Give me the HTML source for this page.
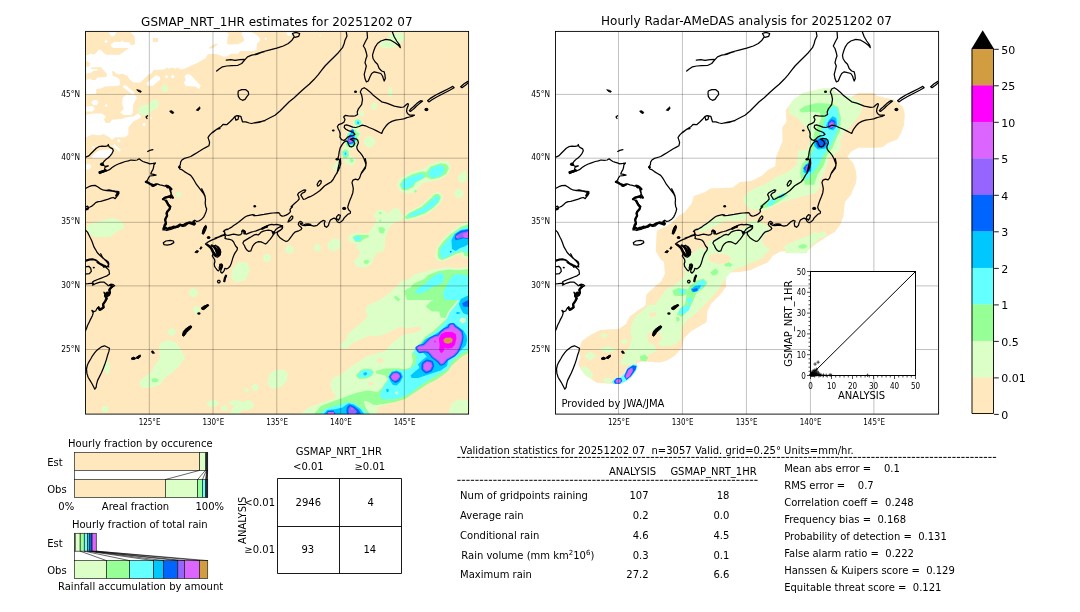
<!DOCTYPE html>
<html><head><meta charset="utf-8"><title>GSMAP_NRT_1HR validation 20251202 07</title>
<style>html,body{margin:0;padding:0;background:#fff}svg{display:block}text{font-family:"DejaVu Sans","Liberation Sans",sans-serif;fill:#000;white-space:pre}</style></head><body>
<svg width="1080" height="612" viewBox="0 0 1080 612">
<rect width="1080" height="612" fill="#fff"/>
<defs>
<clipPath id="cl"><rect x="85.55" y="31.4" width="383.05" height="382.70000000000005"/></clipPath>
<clipPath id="cr"><rect x="555.55" y="31.4" width="383.05000000000007" height="382.70000000000005"/></clipPath>
</defs>
<g clip-path="url(#cl)">
<rect x="85.55" y="31.4" width="383.05" height="382.70000000000005" fill="#ffe8bd"/>
<path d="M130.5 32.3L220.0 32.3L220.0 53.4L207.7 54.3L205.8 58.1L198.2 62.5L184.4 68.7L180.6 69.4L177.5 67.5L175.0 68.7L171.8 67.5L168.7 68.7L166.8 67.5L164.3 69.4L153.6 70.0L151.1 73.8L147.9 75.0L140.4 82.6L133.4 82.6L129.0 78.8L127.8 76.3L122.7 73.8L117.7 74.4L113.3 71.0L112.1 71.3L112.7 75.7L116.5 76.9L119.6 79.4L120.2 84.5L118.3 85.7L104.5 86.4L102.0 88.2L96.3 88.9L96.1 93.9L86.3 94.5L86.3 55.5L91.3 53.4L93.2 54.7L95.7 53.6L98.8 49.6L100.7 49.9L105.8 54.7L119.6 54.7L129.0 48.0L113.3 48.0L111.2 46.3L110.8 44.2L114.6 41.7L120.2 42.1L122.4 40.4L124.4 42.1L129.7 42.3L130.9 45.5L135.1 44.2L134.7 36.7ZM109.5 32.3L116.5 32.3L114.2 36.0L111.2 36.3L109.5 34.1ZM106.1 39.6L108.0 41.4L106.1 43.3L104.3 41.4ZM123.4 85.4L125.5 84.9L134.7 92.7L132.8 94.5L122.7 87.0ZM146.3 83.2L156.1 75.0L159.9 76.9L160.2 79.4L152.9 86.0L147.9 85.7ZM166.5 74.9L168.3 76.7L166.5 78.4L164.8 76.7ZM172.8 74.7L174.8 76.7L172.8 78.7L170.8 76.7ZM184.4 76.3L187.5 73.8L190.7 75.0L200.8 85.7L198.9 88.9L195.7 86.4L185.7 86.1L183.8 82.6L185.7 80.1ZM122.7 97.7L126.5 94.5L135.3 95.2L136.8 97.7L133.4 104.0L132.8 111.5L124.6 111.5L122.1 104.0ZM91.3 102.5L93.6 99.9L96.6 99.9L98.6 102.5L96.6 105.2L93.6 105.2ZM215.0 32.3L227.0 32.3L228.8 34.8L227.6 37.3L227.0 43.6L228.8 44.6L237.6 44.2L242.1 42.3L244.2 40.4L243.3 37.3L241.4 34.8L242.1 32.3L251.5 32.3L256.5 34.8L259.7 37.9L260.3 40.4L257.1 43.6L256.5 49.9L252.7 51.1L240.2 51.1L237.6 54.3L231.4 53.6L227.6 56.2L223.8 56.8L215.0 53.6ZM265.7 37.3L267.2 38.8L265.7 40.3L264.2 38.8ZM286.1 32.5L291.7 32.5L291.1 35.4L288.0 36.0ZM320.1 34.4L321.1 35.4L320.1 36.4L319.1 35.4ZM86.3 106.5L92.5 105.9L95.1 108.8L92.5 111.5L86.3 111.5ZM106.1 104.0L107.6 105.5L106.1 107.0L104.6 105.5ZM120.2 112.2L123.4 109.3L130.9 109.3L133.4 112.2L130.9 115.1L123.4 115.1ZM86.3 114.7L92.5 113.4L102.0 113.4L105.8 116.6L103.9 119.7L105.8 122.9L109.5 122.9L112.1 119.7L121.5 119.1L126.5 117.2L133.4 116.6L137.8 113.4L141.0 116.0L140.4 117.8L133.4 121.6L128.4 127.3L128.4 134.2L125.3 137.3L115.2 137.3L112.1 139.9L109.5 137.3L103.9 134.2L98.8 135.5L92.5 134.2L86.3 137.3ZM144.1 122.6L146.0 124.5L144.1 126.4L142.2 124.5ZM118.7 138.9L120.6 140.7L118.7 142.6L116.8 140.7ZM93.2 145.6L94.7 147.2L93.2 148.7L91.7 147.2ZM112.1 145.5L114.6 144.3L120.9 149.9L119.0 151.8L116.5 149.3ZM91.9 156.2L95.7 152.4L100.1 149.9L110.8 149.3L112.9 151.6L107.6 158.1L92.5 158.1ZM86.3 164.4L89.4 164.1L91.5 166.3L89.4 169.2L86.3 169.4ZM151.1 116.8L152.3 118.1L151.1 119.3L149.8 118.1Z" fill="#fff"/><path d="M152.9 37.9L158.0 37.9L158.0 42.1L152.9 42.1ZM208.9 47.4L215.9 43.6L218.1 44.2L212.1 48.6L209.6 48.6ZM85.0 74.0L91.0 72.8L93.1 71.0L98.0 70.5L97.0 69.0L91.0 69.0L91.5 67.5L100.7 67.0L107.0 74.0L106.4 77.0L97.5 77.6L95.4 79.9L92.3 79.9L89.7 78.6L85.0 80.6ZM85.0 59.7L90.2 63.3L89.2 66.5L85.0 67.0Z" fill="#ffe8bd"/><path d="M162.0 86.4L164.3 84.5L166.8 85.7L168.3 88.9L166.8 91.6L163.6 92.0L161.5 89.5ZM138.1 109.4L141.4 105.3L148.7 104.5L152.0 100.4L156.9 99.6L159.3 103.7L156.9 108.6L152.0 111.1L149.5 114.3L142.2 115.2L138.6 112.7ZM388.5 34.8L391.6 32.9L403.6 32.9L403.9 39.8L400.4 43.6L397.9 45.5L394.1 47.4L387.8 48.0L382.8 48.0L379.7 45.5L380.3 42.3L385.3 39.8L389.1 38.5ZM388.5 88.2L390.4 86.4L392.2 88.2L392.2 95.8L390.4 97.7L388.5 95.8ZM371.5 104.0L374.0 102.1L376.5 104.0L377.1 109.6L371.5 109.6ZM371.7 104.0L374.0 102.3L376.9 103.4L377.8 106.3L375.8 108.0L372.9 107.8L371.2 105.9ZM359.2 112.0L362.0 110.3L364.3 112.0L364.1 115.4L361.5 117.2L359.2 115.4ZM353.4 120.6L356.3 118.9L360.9 119.4L362.9 122.3L362.0 125.7L359.2 127.5L358.6 130.9L360.7 133.2L360.0 136.6L357.5 138.3L358.0 144.0L355.7 147.5L351.7 148.6L349.4 150.3L348.9 154.9L354.6 157.2L355.4 160.6L352.3 163.5L348.9 162.9L347.2 159.5L343.7 158.9L341.4 154.9L342.0 150.3L344.9 145.8L345.4 141.2L347.2 136.6L346.0 134.3L349.4 130.9L352.9 127.5L353.4 124.0ZM375.2 141.7L374.0 145.1L371.2 147.2L367.7 147.2L364.9 145.1L363.7 141.7L364.9 138.4L367.7 136.3L371.2 136.3L374.0 138.4ZM334.6 164.1L339.2 159.5L341.4 161.8L340.3 167.5L336.9 170.0L332.3 170.0ZM396.7 184.0L400.4 178.3L410.5 172.6L423.1 168.9L430.6 163.8L441.9 160.7L448.2 161.3L450.8 166.4L448.2 173.9L440.7 178.9L430.6 181.5L423.1 182.7L418.0 187.7L413.0 192.8L405.5 193.4L399.2 190.3ZM402.9 216.7L408.0 211.7L420.6 205.4L430.6 196.6L434.4 192.8L439.4 192.1L443.2 195.9L441.9 201.6L435.7 207.9L426.8 214.2L415.5 218.6L406.7 220.5L403.6 219.2ZM457.7 177.1L460.8 173.3L465.9 170.1L467.1 178.9L463.3 183.3L458.9 182.1ZM464.0 193.4L462.5 196.9L458.9 198.4L455.4 196.9L453.9 193.4L455.4 189.9L458.9 188.4L462.5 189.9ZM343.2 160.1L347.6 158.2L353.9 158.8L355.1 162.6L352.6 165.7L347.6 165.1ZM376.5 217.5L387.8 216.9L397.9 215.0L402.9 215.0L401.7 220.0L394.1 222.5L389.1 227.6L386.6 233.9L384.7 240.2L385.3 246.5L382.8 251.5L376.5 252.7L374.0 257.8L371.5 264.1L365.2 267.8L356.4 266.6L353.9 261.6L358.9 256.5L360.2 251.5L356.4 247.7L357.6 243.9L350.1 242.1L347.6 237.6L351.4 233.9L357.6 232.6L367.7 233.9L371.5 228.8L375.3 222.5ZM372.7 217.5L375.3 212.5L379.0 209.3L384.1 210.6L387.8 213.7L394.1 208.1L397.9 207.5L400.4 212.5L402.9 216.3ZM334.4 240.2L338.1 238.9L339.4 243.9L337.5 249.0L334.4 249.6ZM435.0 256.5L436.3 249.0L441.9 240.2L449.5 232.6L460.8 224.4L469.0 221.3L469.0 257.8L463.3 257.8L460.8 254.0L453.3 256.5L448.2 259.0L441.9 261.6L436.9 260.3ZM469.0 280.0L469.0 351.6L462.1 355.4L455.8 360.4L450.8 365.4L448.2 370.5L443.2 374.2L435.7 379.3L428.1 383.0L420.6 388.1L413.0 393.1L405.5 398.1L395.4 401.9L385.3 404.4L377.8 407.0L376.5 414.5L299.8 414.5L309.8 407.0L322.4 402.5L332.5 399.4L337.5 395.6L333.7 394.4L330.0 384.3L333.7 376.8L340.0 375.5L347.6 369.2L356.4 362.9L366.5 356.6L379.0 352.8L385.3 351.1L390.4 344.8L397.9 337.9L405.5 334.1L415.5 332.6L422.1 329.1L420.6 326.3L405.5 328.4L400.4 326.8L394.1 329.7L385.3 334.1L376.5 336.6L370.2 335.4L362.7 338.5L352.6 342.9L347.6 348.6L340.7 347.9L341.3 344.2L346.3 339.1L347.6 334.1L353.9 329.1L361.4 322.8L367.7 316.5L365.2 310.2L367.7 305.2L376.5 301.4L385.3 296.4L394.1 288.8L402.9 280.0ZM405.0 300.0L405.7 282.0L413.9 274.7L424.1 271.7L435.9 268.8L446.2 267.3L456.4 268.0L470.0 266.7L470.0 300.0ZM448.9 409.5L452.0 403.2L458.3 399.4L465.9 399.4L469.0 401.9L469.0 414.5L449.5 414.5ZM267.3 381.8L270.4 373.0L276.7 369.8L284.3 369.8L288.0 374.2L286.8 380.5L281.7 386.8L274.2 389.1L269.2 386.8ZM258.9 387.4L257.8 390.0L255.3 391.0L252.8 390.0L251.8 387.4L252.8 384.9L255.3 383.9L257.8 384.9ZM249.0 390.2L248.4 391.8L246.8 392.5L245.1 391.8L244.5 390.2L245.1 388.6L246.8 387.9L248.4 388.6ZM206.3 403.2L210.0 400.4L216.3 400.0L219.1 403.2L216.3 406.3L210.0 407.6ZM227.6 407.9L226.8 410.2L224.5 411.1L222.2 410.2L221.4 407.9L222.2 405.7L224.5 404.8L226.8 405.7ZM228.3 402.5L232.7 400.0L239.0 400.7L242.7 401.9L247.8 400.0L252.8 401.9L254.1 405.7L250.3 409.5L242.7 410.1L237.7 414.5L230.2 414.5L232.1 408.2L235.2 405.7L230.2 405.1ZM87.5 225.2L97.5 221.5L112.5 217.8L122.5 221.5L124.5 227.8L117.5 231.5L110.0 237.0L95.0 237.0L87.5 232.8ZM181.5 194.5L180.8 196.5L178.8 197.2L176.8 196.5L176.0 194.5L176.8 192.5L178.8 191.8L180.8 192.5ZM232.5 269.0L238.8 262.0L247.5 262.8L250.0 270.2L245.0 280.2L236.2 282.8L231.2 277.8ZM271.2 258.0L270.0 261.0L267.0 262.2L264.0 261.0L262.8 258.0L264.0 255.0L267.0 253.8L270.0 255.0ZM293.8 249.5L292.5 252.5L289.5 253.8L286.5 252.5L285.2 249.5L286.5 246.5L289.5 245.2L292.5 246.5ZM321.2 247.8L320.2 250.5L317.5 251.5L314.8 250.5L313.8 247.8L314.8 245.0L317.5 244.0L320.2 245.0ZM327.0 244.0L332.5 238.5L340.0 239.5L341.2 246.5L335.0 251.0L328.8 249.5ZM197.8 292.8L196.5 296.0L193.2 297.2L190.0 296.0L188.8 292.8L190.0 289.5L193.2 288.2L196.5 289.5ZM200.5 309.8L199.5 312.5L196.8 313.5L194.0 312.5L193.0 309.8L194.0 307.0L196.8 306.0L199.5 307.0ZM175.8 332.0L174.5 334.8L171.8 336.0L169.0 334.8L167.8 332.0L169.0 329.2L171.8 328.0L174.5 329.2ZM160.0 343.8L167.5 340.0L176.2 342.5L181.2 350.0L185.0 357.5L180.0 365.0L172.5 372.5L165.0 377.5L160.0 385.0L150.0 388.0L141.2 387.5L138.8 382.5L143.8 377.5L151.2 372.5L155.0 365.0L160.0 357.5L158.8 350.0ZM104.0 367.5L105.0 362.5L107.0 360.5L109.0 362.5L110.0 367.5L109.0 372.5L107.0 374.5L105.0 372.5ZM108.5 409.2L107.5 411.8L105.0 412.8L102.5 411.8L101.5 409.2L102.5 406.8L105.0 405.8L107.5 406.8Z" fill="#dcffc8"/><path d="M354.6 120.0L358.6 119.2L361.5 121.2L360.9 124.6L358.0 125.7L354.6 124.0ZM347.2 134.3L352.9 129.2L356.3 130.3L356.9 134.3L358.0 138.9L355.7 145.8L351.7 147.5L347.2 146.9L345.4 143.5ZM342.0 151.5L345.4 149.2L348.3 150.9L348.9 156.0L346.6 158.3L343.2 157.8ZM356.3 133.4L358.0 132.3L359.7 133.7L358.6 135.7L356.9 135.7ZM350.0 159.5L351.7 158.3L353.4 160.0L352.6 162.3L350.6 162.3ZM399.8 184.6L402.9 179.6L411.7 174.5L421.8 171.4L426.8 172.0L430.6 166.4L440.7 163.2L447.0 164.5L448.9 168.2L446.3 173.9L439.4 177.7L431.9 179.6L425.6 177.1L421.8 179.6L415.5 182.7L413.6 187.1L406.7 190.3L401.7 189.6ZM415.5 189.8L417.0 191.3L415.5 192.8L414.0 191.3ZM404.8 216.7L409.2 212.9L421.8 206.6L431.9 197.2L435.0 194.0L438.8 194.0L440.7 197.2L438.8 202.2L433.1 207.9L425.0 213.5L414.3 217.3L406.1 219.2ZM350.1 160.1L352.0 158.8L353.9 160.7L352.6 162.6L350.7 162.3ZM380.3 211.6L381.8 213.1L380.3 214.6L378.8 213.1ZM378.4 227.6L382.2 227.0L385.3 229.5L383.4 233.2L379.7 233.2ZM352.6 237.0L356.4 235.1L368.3 235.1L369.0 237.0L363.9 238.9L360.2 242.1L355.1 241.7ZM363.3 260.9L367.1 259.7L369.6 261.6L367.7 263.8L364.6 263.8ZM379.0 220.7L380.3 219.4L381.6 220.7L380.3 221.9ZM437.5 255.3L438.2 248.3L443.8 240.8L450.8 233.9L460.8 227.0L469.0 223.8L469.0 256.5L464.6 255.9L463.3 252.1L455.8 254.0L448.2 257.8L441.9 260.3L438.8 258.4ZM404.2 290.7L410.5 287.5L423.1 286.9L430.6 285.0L435.7 280.0L469.0 280.0L469.0 291.3L460.8 296.4L455.8 302.6L448.2 311.5L445.7 317.7L440.7 317.7L439.4 311.5L431.9 311.5L425.6 306.4L430.6 301.4L438.2 297.6L438.8 291.3L433.1 289.4L423.1 292.6L415.5 292.0L411.7 296.4L406.1 298.2ZM406.5 300.0L408.7 289.4L413.9 283.5L424.1 279.1L428.5 274.7L438.8 271.1L449.1 269.6L459.4 270.3L470.0 268.8L470.0 300.0ZM393.5 297.0L396.0 295.7L400.4 299.5L397.9 301.6ZM469.0 352.8L462.1 356.6L455.8 361.7L451.4 366.1L448.2 371.1L443.2 374.9L435.7 379.9L428.1 383.7L420.6 388.7L413.0 393.7L405.5 398.8L395.4 401.9L385.3 403.8L376.5 405.1L372.7 404.4L369.0 401.9L363.9 400.7L365.2 407.0L370.2 414.5L313.6 414.5L321.2 405.7L331.2 401.9L342.5 398.1L348.8 395.6L357.6 392.5L367.7 390.6L377.8 391.9L382.2 387.4L385.3 383.0L387.8 379.3L385.3 375.5L376.5 373.6L375.3 371.1L385.3 368.6L397.9 368.2L405.5 369.2L410.5 367.3L413.0 361.7L411.7 354.1L414.3 350.5L418.0 345.4L425.6 336.6L434.4 330.3L441.9 322.8L448.2 317.7L469.0 317.7ZM355.8 375.5L360.2 370.5L365.2 368.6L371.5 369.2L374.0 372.4L371.5 376.1L366.5 378.6L358.9 379.0ZM151.2 379.0L155.0 378.0L158.8 379.5L157.5 382.0L152.5 382.0Z" fill="#96ff96"/><path d="M355.7 120.6L358.6 120.0L360.7 121.7L360.0 124.2L357.5 125.2L355.4 123.4ZM348.3 134.3L352.3 130.3L355.2 131.5L355.4 135.5L356.9 139.5L354.6 144.6L351.2 145.8L348.3 145.2L346.6 142.3ZM343.5 152.0L345.8 150.9L347.4 152.6L347.2 156.0L344.9 157.0L343.2 154.9ZM401.7 183.3L405.5 178.9L415.5 175.2L423.1 173.3L424.3 176.4L421.8 178.9L415.5 181.5L411.7 186.5L405.5 189.0L401.7 187.7ZM428.1 173.3L431.3 168.2L439.4 165.1L443.8 166.4L444.5 170.8L441.3 175.2L434.4 177.7L429.4 177.1ZM408.0 216.1L411.7 212.9L423.1 207.9L433.1 199.1L435.7 195.9L438.8 196.6L439.2 199.7L434.4 205.4L425.6 211.7L415.5 215.4L409.2 217.3ZM353.9 237.6L357.0 236.1L360.8 236.6L361.4 239.5L358.3 241.2L354.9 240.2ZM440.1 254.0L440.1 249.0L445.7 242.1L452.0 235.8L460.8 228.8L469.0 226.3L469.0 251.5L464.0 252.7L462.1 250.2L454.5 252.7L447.0 257.1L441.9 259.0ZM414.5 292.3L418.3 287.9L425.6 283.5L430.0 279.1L435.9 274.7L441.8 272.5L444.0 276.2L443.2 282.0L438.8 285.0L432.9 286.4L428.5 289.4L424.1 292.3L418.3 293.8ZM444.7 300.0L443.2 292.3L446.2 286.4L449.1 280.6L452.0 276.2L456.4 274.0L462.3 274.7L470.0 276.2L470.0 300.0ZM469.0 349.1L460.8 354.1L454.5 359.1L450.8 362.9L448.2 368.6L441.9 372.4L434.4 376.8L426.8 381.2L419.3 386.2L411.7 391.9L404.2 396.3L395.4 398.8L385.3 399.4L380.3 398.1L379.7 394.4L382.8 388.1L387.8 380.5L389.1 374.2L394.1 369.8L402.9 370.5L409.2 369.2L415.5 364.2L416.8 355.4L413.0 352.8L416.8 347.9L421.8 342.9L428.1 336.6L435.7 331.6L443.2 324.0L447.0 319.0L449.5 312.7L455.8 305.2L460.8 297.6L469.0 291.3ZM357.6 375.5L361.4 371.1L365.8 369.5L370.9 370.2L372.7 372.7L370.2 375.5L365.8 377.4L359.5 377.8ZM318.3 414.5L326.2 408.8L335.0 405.7L342.5 403.8L346.3 402.5L352.6 402.5L360.2 407.0L365.2 411.4L370.2 414.5Z" fill="#64ffff"/><path d="M357.2 121.5L359.2 122.0L358.8 124.0L357.2 123.8ZM344.6 152.8L346.0 152.4L346.4 154.3L344.9 154.9ZM348.9 135.5L351.7 132.0L354.2 133.2L354.6 136.6L355.7 140.0L353.4 144.0L350.0 144.6L347.2 142.9L347.4 138.9ZM452.0 249.0L451.4 240.2L454.5 233.9L460.8 230.1L469.0 228.6L469.0 243.9L464.6 246.5L459.6 248.3L455.8 250.9ZM458.9 303.9L460.8 298.9L469.0 295.1L469.0 315.2L463.3 313.3L460.8 308.9ZM456.4 312.1L459.6 312.1L459.6 314.0L456.4 314.0ZM416.2 348.6L420.6 344.8L425.6 339.1L433.1 335.4L439.4 331.6L445.7 326.6L448.2 324.0L454.5 323.4L459.6 327.8L463.3 330.3L466.5 335.4L467.1 340.4L465.9 345.3L459.6 351.6L452.0 355.4L448.2 360.4L447.0 366.1L440.7 370.5L433.1 373.0L425.6 375.5L418.0 378.0L411.7 378.0L410.5 375.5L415.5 371.1L419.3 367.9L418.0 364.2L421.8 360.4L426.8 356.6L423.1 352.8L416.8 351.6ZM388.5 376.8L391.6 371.7L396.7 370.5L401.1 372.4L402.9 376.8L400.4 381.8L396.7 385.6L392.9 384.9L390.4 381.2ZM386.0 389.3L388.5 388.7L388.9 391.2L386.8 392.5ZM363.3 373.0L365.8 372.0L367.5 373.6L365.8 375.5L363.7 375.2ZM323.3 414.5L327.1 410.1L335.0 409.2L342.5 407.6L345.7 405.1L348.8 403.2L353.9 404.4L360.2 408.8L364.6 414.5Z" fill="#00c8ff"/><path d="M350.4 130.0L352.9 129.2L354.2 131.1L352.9 133.2L350.6 132.6ZM348.1 138.3L350.0 136.0L353.4 136.4L354.6 140.0L352.9 142.9L349.4 144.0L347.2 142.3ZM450.8 250.7L451.8 251.7L450.8 252.7L449.7 251.7ZM454.5 238.3L455.8 233.9L460.8 230.7L469.0 229.6L469.0 238.9L463.3 238.3L458.9 239.5L455.8 240.2ZM415.4 348.7L415.4 347.8L415.6 347.1L416.2 346.4L418.9 344.7L423.1 343.9L429.7 337.4L434.4 335.1L437.7 334.4L440.3 331.1L444.1 328.1L447.6 326.8L448.9 324.0L449.9 323.3L452.8 322.9L453.9 323.2L454.5 323.8L455.8 325.9L459.3 328.1L462.5 331.1L462.8 331.8L463.7 337.1L462.7 342.7L460.7 348.1L458.3 353.0L454.9 356.4L447.6 360.8L444.7 364.3L444.0 364.8L441.3 365.7L440.4 365.6L439.8 365.3L437.3 362.2L431.5 357.8L429.1 354.6L427.5 353.0L424.1 352.5L419.8 353.2L419.0 353.1L418.2 352.5L415.8 349.3ZM421.9 362.9L422.6 362.3L426.0 359.8L426.8 359.5L427.6 359.6L431.5 360.4L432.5 361.0L433.0 361.8L434.1 364.9L434.3 366.1L432.3 370.5L431.8 371.2L431.0 371.7L427.2 373.2L426.0 373.4L424.7 372.7L422.2 370.6L421.6 369.7L421.3 368.8L421.6 364.0ZM462.1 303.3L469.0 299.5L469.0 307.1L463.3 306.4ZM389.1 376.8L392.2 372.4L396.7 371.5L400.4 373.2L401.7 376.8L399.2 381.2L395.4 383.0L391.6 380.5ZM346.3 410.7L347.0 407.0L349.5 404.4L353.9 406.3L358.9 410.1L361.4 414.5L347.0 414.5ZM325.8 414.5L327.7 411.0L333.4 410.5L335.9 414.5Z" fill="#0064ff"/><path d="M348.9 138.3L350.6 136.6L352.9 137.2L353.8 140.0L352.3 142.5L349.4 142.9L348.1 141.2ZM455.5 237.0L457.7 234.5L462.1 232.6L469.0 231.1L469.0 238.3L462.1 237.4L457.7 238.9ZM416.7 348.1L416.8 347.6L419.3 345.8L423.7 345.0L430.2 338.5L434.8 336.2L438.3 335.5L441.2 332.1L444.8 329.1L448.5 327.8L449.9 324.8L450.2 324.4L452.8 324.2L453.3 324.3L454.9 326.8L458.4 329.1L461.7 332.3L462.5 337.1L461.4 342.4L459.6 347.7L457.2 352.2L454.0 355.4L446.7 359.8L444.0 363.3L443.5 363.7L441.2 364.4L440.6 364.3L438.2 361.3L432.4 356.9L430.1 353.9L428.1 351.8L424.1 351.2L419.5 351.8L419.0 351.6L416.8 348.6ZM423.6 363.5L426.6 361.3L427.2 361.2L431.3 362.2L431.6 362.5L432.6 365.9L430.6 370.1L426.6 371.7L426.1 371.7L422.9 369.0L423.2 364.2ZM390.4 376.8L392.9 373.2L396.7 372.5L399.4 374.2L400.2 376.8L397.9 379.9L394.8 381.2L391.9 379.5ZM348.2 409.5L350.1 406.3L353.9 408.2L357.0 411.4L355.1 414.5L348.8 414.5Z" fill="#9664ff"/><path d="M349.7 138.3L351.2 137.2L352.6 138.3L352.3 141.2L350.6 142.1L349.4 140.6ZM462.7 233.9L469.0 231.7L469.0 238.3L464.0 237.6ZM457.0 235.4L458.3 236.6L457.0 237.9L455.8 236.6ZM417.5 348.1L419.7 346.6L424.1 345.9L427.1 342.9L430.7 339.3L435.2 337.1L438.8 336.4L441.8 332.6L445.5 329.7L449.1 328.6L450.6 325.3L452.8 325.0L454.3 327.6L457.9 329.7L460.9 332.6L461.6 337.1L460.6 342.2L458.7 347.3L456.4 351.7L453.5 354.7L449.9 356.9L446.2 359.1L443.2 362.8L441.1 363.5L438.8 360.6L435.9 358.4L432.9 356.1L430.7 353.2L428.5 351.1L424.1 350.3L419.7 351.1ZM424.1 364.3L427.1 362.0L430.7 362.8L431.8 365.7L430.0 369.5L426.3 370.8L423.8 368.7ZM391.0 376.8L393.3 373.9L396.7 373.2L398.9 374.7L399.4 376.8L397.4 379.3L394.8 380.3L392.4 379.0ZM350.7 408.0L352.6 407.6L353.2 409.5L351.4 410.1ZM327.7 412.0L334.0 412.0L334.0 414.5L327.7 414.5Z" fill="#dc64ff"/><path d="M438.8 338.5L441.1 334.1L445.5 332.0L452.0 332.0L455.8 334.1L456.4 338.5L455.0 344.4L452.0 348.1L447.6 348.8L444.7 348.1L443.2 351.7L441.1 353.2L439.2 350.3L439.6 344.4ZM435.0 340.6L436.0 341.7L435.0 342.7L434.0 341.7Z" fill="#ff00ff"/><path d="M443.2 340.0L445.5 337.8L450.6 337.4L452.8 339.3L452.0 342.2L448.4 343.7L444.7 342.9Z" fill="#d29c40"/><path d="M377.1 359.1L382.2 357.9L384.1 360.4L380.9 362.9L377.1 362.3ZM368.0 382.4L372.7 381.8L374.0 384.3L370.2 385.8L368.0 384.6Z" fill="#ffe8bd"/><path d="M458.9 320.3L462.1 317.5L465.9 318.4L465.6 322.1L462.1 323.4ZM394.8 391.9L397.3 391.2L398.5 393.4L396.0 394.6Z" fill="#dcffc8"/>
<path d="M149.3 31.4V414.1M213.0 31.4V414.1M276.8 31.4V414.1M340.7 31.4V414.1M404.3 31.4V414.1M85.55 94.4H468.59999999999997M85.55 158.2H468.59999999999997M85.55 222.3H468.59999999999997M85.55 285.9H468.59999999999997M85.55 349.5H468.59999999999997" stroke="#000" stroke-opacity="0.42" stroke-width="0.6" fill="none"/>
<path d="M147.5 115.7L146.0 117.0L147.0 118.5M216.7 71.0L219.2 69.0L222.5 66.8L226.7 66.0L231.7 65.7L237.5 65.5L241.7 63.5L245.0 59.7L247.5 56.8L251.7 55.2L256.7 54.3L260.8 52.7L265.0 51.3M226.3 60.2L230.8 59.7L235.0 60.3L240.0 59.7L244.2 59.3M238.3 91.0L241.7 89.7L245.8 89.7L248.3 91.8L248.7 94.3L246.7 96.8L245.0 99.3L242.5 100.3L240.0 99.0L238.3 96.3L238.0 93.5ZM212.5 132.7L216.7 129.3L220.8 126.8L223.0 124.3L226.7 124.7L230.0 121.8L232.5 119.3L235.0 116.3L237.5 115.7L240.8 116.3L241.7 119.3L242.5 121.8L245.8 121.8L249.2 123.0L251.7 123.5L256.7 122.3L261.7 121.3L265.0 120.7M235.0 116.8L236.7 115.7L238.7 116.3L238.0 119.3L235.8 120.2ZM255.0 54.3L261.7 52.0L270.0 49.8L276.7 48.2L283.3 46.0L288.3 43.5L292.0 40.2L294.2 36.8L292.5 33.5L295.8 32.3L299.7 33.5L298.7 36.3L295.0 37.3M346.3 32.3L347.0 36.0L345.0 40.2L344.2 43.5L342.5 47.7L338.3 52.7L333.3 57.7L329.2 61.8L325.0 66.0L321.7 70.2L318.3 74.7L314.2 79.3L309.2 84.3L304.2 88.5L299.2 93.0L294.2 97.7L289.2 101.8L284.2 106.8L280.0 111.0L275.0 115.2L270.0 117.7L264.2 120.7L259.2 122.3L255.0 123.0M367.0 31.0L367.5 37.7L365.3 41.8L363.3 46.0L365.0 48.5L366.3 52.7L367.0 56.0L365.8 59.3L365.0 62.7L366.3 66.0L365.3 70.2L364.2 74.3L365.0 78.5L366.3 81.8L368.3 81.0L370.0 76.8L371.7 73.5L374.2 71.8L377.5 72.7L380.8 73.5L382.5 76.0L383.3 78.5L384.2 81.0L385.3 78.5L385.0 75.2L384.2 71.8L381.7 71.0L379.2 68.5L377.5 64.3L375.0 61.8L373.0 58.5L372.5 55.2L373.7 51.0L375.3 46.8L377.5 43.5L380.8 41.0L385.8 39.3L390.8 40.2L395.0 42.7L398.3 45.2L400.3 47.7L399.7 45.2L396.7 41.0L394.2 36.8L392.0 31.0M364.2 87.7L361.7 89.0L360.3 91.9L361.7 95.3L362.5 99.3L361.7 104.3L360.3 106.3L358.4 108.8L357.2 112.0L357.6 114.5L355.3 115.8L352.1 116.1L348.4 115.8L345.2 115.4L343.7 117.0L345.0 119.5L344.0 122.1L341.5 123.7L338.7 124.6L337.4 126.5L338.3 129.0L339.6 131.5L340.2 134.0L339.9 137.1L341.5 139.7L344.0 140.5L345.9 139.0L347.7 137.1L350.3 135.9L353.4 135.5L355.0 134.3L353.4 132.5L350.9 131.5L348.4 130.6L345.9 129.2L344.2 127.5L344.6 125.4L346.5 124.9L349.6 125.8L352.8 127.1L355.9 127.5L359.1 126.5L362.2 125.2L365.4 125.8L369.1 127.5L372.9 129.0L376.7 130.9L379.8 132.5L381.7 133.4L382.7 130.9L384.2 128.3L386.1 125.8L388.6 123.3L391.8 121.4L395.6 120.2L400.0 119.5L403.7 118.9L406.9 117.6L409.4 117.0L411.9 116.4L414.4 115.1L411.9 115.1L409.4 115.1L407.5 113.6L406.6 111.4L406.9 108.8L407.9 106.3L408.4 104.1L407.5 103.6L405.6 105.3L403.7 107.0L400.6 107.3L394.3 106.1L386.7 103.2L381.7 101.8L377.4 98.5L373.3 95.3L370.0 91.9L366.7 89.3ZM337.1 173.0L338.3 167.3L339.2 163.6L339.6 160.4L337.9 158.5L338.7 155.4L339.2 151.6L340.2 147.8L342.1 144.7L344.0 142.2L345.9 140.9L347.7 141.8L348.4 144.3L349.6 146.3L351.5 146.8L353.4 146.0L354.7 143.4L353.8 141.3L352.1 140.0L350.3 139.3L352.8 138.4L355.9 138.8L357.8 140.3L358.4 142.6L357.6 144.7L356.8 146.8L357.2 149.1L358.4 151.0L360.3 152.9L362.2 155.4L363.9 158.5L365.1 161.7L366.0 164.8L365.4 168.0L363.5 170.5L361.6 173.0M409.4 110.7L410.7 109.1L412.5 107.6L414.4 105.7L416.7 103.6L418.8 101.9L420.7 100.7L422.6 101.0L420.7 102.5L418.5 104.4L416.3 106.3L414.4 108.2L412.2 110.1L410.4 111.4ZM427.6 100.7L430.8 98.1L435.8 95.0L442.1 91.9L448.4 88.7L452.8 86.4L454.1 87.7L449.7 90.2L443.4 93.5L437.1 96.8L432.0 99.8L428.9 101.9ZM460.7 86.7L464.1 83.7L467.9 81.4L468.8 82.4L465.4 85.2L462.0 87.7ZM340.4 158.7L340.7 163.8L339.8 166.9L338.5 170.1L336.7 173.2L334.8 176.4L333.1 179.5L331.0 182.0L327.8 183.9L324.7 185.8L322.2 188.3L319.7 190.8L316.5 193.0L313.4 195.0L310.2 196.7L307.5 197.7L305.2 199.0L303.3 199.3L302.1 197.1L300.8 195.2L302.1 193.3L304.6 192.1L305.8 190.2L304.2 189.9L301.4 191.2L298.9 192.7L297.6 194.6L298.7 196.7L299.2 199.0L297.6 200.9L295.4 202.8L293.2 204.7L291.1 206.6M317.1 184.5L318.4 182.0L320.0 180.4L321.3 181.1L320.9 183.3L319.3 185.2L317.8 186.2ZM365.3 158.7L366.2 163.1L365.6 166.3L363.7 169.4L361.8 172.0L360.6 175.1L359.5 178.2L358.0 179.9L355.5 179.1L353.0 180.1L352.0 182.6L352.8 185.8L353.3 188.9L352.8 192.7L351.5 196.5L349.9 200.3L348.6 204.0L347.7 207.2L348.6 209.7L350.5 211.6L350.2 213.5L348.0 214.1L346.1 216.0L344.2 217.9L342.9 220.1L341.1 221.7L339.2 222.7L337.3 221.7L336.0 219.1L336.7 216.6L338.5 214.7L340.4 215.4L339.8 217.9L338.5 220.1L337.3 219.1L336.0 219.1L334.1 218.1L332.2 218.9L330.4 220.1L329.1 222.9L328.5 225.4L326.6 227.3L324.7 226.1L324.3 223.5L325.1 221.0L323.4 220.4L320.9 221.7L319.0 223.5L317.1 225.4L314.0 226.1L310.9 225.4L308.0 225.2L305.2 225.7L302.9 225.4L300.8 224.4M302.9 225.4L305.2 224.2L308.0 223.9L310.9 224.4L308.0 225.2M201.7 188.7L203.6 192.5L204.9 195.7L205.5 199.4L205.2 203.2L205.7 206.4L206.7 208.9L206.1 211.4L204.9 214.5L203.6 217.1L201.7 219.2L199.2 220.8L196.7 221.5L194.8 220.2L193.5 222.1L194.8 224.0L194.2 225.2L191.7 224.2L189.1 223.3L187.2 224.2L185.4 225.9L182.8 226.5L180.3 225.5L178.4 227.1L175.9 227.7L173.4 228.4L170.9 229.3L168.4 230.0L166.5 230.5L164.6 229.6L163.0 230.0L163.3 227.7L165.2 225.9L166.5 224.0L165.5 221.5L165.0 218.9L166.5 217.1L167.5 214.5L166.7 212.0L168.4 210.1L170.0 208.9L170.9 206.4L169.0 204.8L167.5 202.6L166.5 200.3L164.6 200.1L163.0 199.1L164.6 197.3L167.1 196.9L169.6 196.0L171.5 197.5L173.4 197.8L172.1 195.7L170.9 193.1L170.3 191.3L169.6 188.7M163.3 242.8L165.9 241.0L170.3 240.3L173.4 241.0L173.8 242.6L170.9 244.4L167.1 245.1L164.0 244.7ZM202.3 233.4L203.0 230.3L204.5 227.1L205.7 225.5L206.5 227.1L205.5 230.0L204.2 232.8L203.2 234.0ZM223.4 231.5L225.0 230.0L228.1 229.3M85.0 157.5L88.8 155.9L91.3 153.3L93.8 150.8L96.3 148.3L98.8 146.7L102.0 146.2L105.1 146.4L107.6 145.8L108.3 144.5L108.9 146.4L110.8 147.9L112.7 148.9L113.3 150.8L112.1 153.3L110.2 155.9L108.3 157.7L105.8 159.6L103.9 161.5L102.6 163.4L101.4 164.7L103.2 165.3L105.1 166.3L108.3 165.9L105.1 167.2L104.5 169.3L106.4 170.3L103.9 171.8L101.4 172.6L99.5 173.5L99.1 171.8L101.4 171.0L103.9 170.3L106.4 171.0L109.5 169.7L112.1 167.6L115.2 165.5L118.3 164.0L121.5 162.8L125.3 161.5L128.4 160.9L130.9 160.0L134.1 160.3L137.2 160.0L139.1 158.8L141.0 160.3L142.9 161.5L144.8 162.1L147.3 162.8L149.8 163.8L152.9 163.4L155.5 163.0L153.9 164.7L153.6 167.2L152.9 169.7L151.7 171.6L150.7 173.9L153.6 174.4L156.1 175.1L152.9 175.6L149.8 176.0L148.5 177.9L147.3 180.4L145.4 181.9L147.9 182.3L149.8 183.5L151.7 184.8L153.6 185.7L155.5 184.8L157.3 183.9L159.9 184.8L162.4 185.4L164.9 186.1L167.4 185.4L169.3 186.7L170.6 188.6L171.8 189.2L170.6 190.5L171.2 193.0L170.6 195.5L168.0 196.5L170.6 198.0M147.7 151.5L149.8 150.4L152.9 149.6M220.0 128.6L217.1 129.1L214.6 130.7L212.1 132.6L209.6 135.1L208.0 137.6L208.9 140.1L209.6 142.6L208.9 145.8L206.4 147.1L203.3 148.7L200.1 150.8L197.0 152.7L193.8 154.6L190.7 156.5L187.5 157.5L184.4 158.4L181.9 160.0L180.6 162.1L180.4 164.7L178.7 167.2L180.0 169.1L181.9 169.7L184.4 171.6L187.5 173.5L190.7 175.4L192.6 177.9L194.5 181.0L196.3 184.2L198.2 186.7L200.1 189.2L202.0 191.7L203.9 194.2L205.2 197.0M85.0 188.6L88.8 186.7L91.9 185.7L95.1 185.4L97.6 186.7L100.1 188.6L102.6 189.8L105.8 190.5L108.9 189.8L112.1 190.5L115.2 191.1L118.7 191.5L117.1 193.0L115.8 195.5L116.5 197.0M115.8 195.7L118.0 193.1L119.0 191.9L117.1 192.3L113.9 191.5L110.2 191.0L107.0 190.6L103.9 190.0M119.0 193.1L118.0 195.0L116.5 196.9L115.2 198.6L113.3 197.5L110.8 198.2L108.3 199.1L105.8 199.8L103.2 200.7L100.7 201.3L98.2 201.6L95.7 202.6L93.8 204.5L91.9 206.1L90.0 207.0L88.1 207.4L86.9 208.9L85.0 210.1M85.6 207.0L87.5 206.1L88.8 207.6L87.8 209.5L86.0 209.9ZM85.0 229.6L87.5 232.1L88.8 234.7L90.0 237.2L91.3 239.7L92.3 242.2L93.2 244.7L94.1 247.2L95.7 249.8L97.0 252.3L98.8 254.2L100.7 256.1L102.6 257.9L104.5 259.2L106.4 260.5L108.3 262.0L108.9 264.2L107.6 266.1L106.4 267.4M85.0 260.5L89.4 259.2L92.5 258.9L95.7 259.8L98.2 261.7L100.1 263.6L102.0 265.2L103.9 267.4M100.7 253.7L102.6 257.5L105.8 260.7L108.3 263.8L108.7 267.0L106.4 266.3L103.2 264.8L100.1 263.2L97.0 261.3L93.8 259.8L90.0 260.0L85.0 261.3M97.0 262.5L101.4 265.1L105.8 267.3L108.9 270.1L109.5 273.9L107.0 275.8L103.9 277.0L100.7 278.3L97.6 279.5L94.4 280.8L92.5 282.1L93.8 284.6L91.3 283.3L88.1 283.7L85.0 283.9M92.5 285.2L96.3 283.3L100.1 282.1L103.9 282.1L106.4 283.9L108.3 285.8L110.8 284.2L113.3 284.6L114.6 285.8L112.1 287.1L110.2 288.0L108.9 290.2L110.2 292.7L109.5 295.3L107.6 296.5L105.8 294.0L103.9 292.1L105.1 295.3L107.0 298.4L105.8 300.9L103.9 302.8L102.6 305.3L103.9 307.8L102.0 309.1L99.5 310.4L98.2 308.5L98.8 306.6L97.0 308.5L95.7 311.0L93.8 311.6L91.9 310.4L93.2 312.9L92.5 315.4L91.3 317.9L90.0 320.4L88.8 322.9L87.5 325.5L86.5 328.6L85.0 331.7M85.0 267.0L88.8 266.3L90.7 268.2L91.3 271.4L89.4 273.6L85.0 274.1M104.5 345.8L107.0 347.0L109.5 348.3L108.9 351.4L107.6 355.2L106.4 359.6L104.9 364.0L103.2 368.4L101.4 372.8L99.5 376.6L97.6 380.4L96.6 384.1L96.1 387.3L94.8 389.2L93.6 386.7L91.9 383.5L90.0 380.4L88.1 377.2L86.9 373.4L86.5 369.0L87.3 365.3L88.8 362.1L90.7 359.0L92.5 355.8L94.8 352.7L97.0 350.2L99.5 348.3L102.0 346.6ZM205.4 244.0L207.7 242.3L210.6 240.6L213.4 239.4L216.3 238.3L219.2 236.9L222.0 235.8L224.3 235.1L225.5 236.6L224.9 238.3L226.6 238.9L229.5 239.4L231.7 240.0L233.5 241.7L234.6 244.0L235.8 246.3L237.5 248.0L236.9 250.3L235.2 252.6L234.0 254.9L232.9 257.7L232.1 260.6L231.2 263.5L230.0 266.3L228.3 268.0L226.6 268.9L224.9 268.3L224.3 270.3L223.2 272.0L221.8 273.2L220.7 272.0L220.9 269.7L222.0 267.5L222.6 265.2L221.5 264.0L220.0 265.2L219.2 267.5L219.5 269.7L218.4 270.9L216.9 269.7L215.7 268.0L214.6 266.3L214.2 264.0L214.9 261.7L214.6 259.5L213.4 257.7L212.3 256.0L212.9 254.1L214.2 255.2L215.7 256.6L217.5 257.2L219.2 256.0L220.3 254.1L220.7 251.8L220.0 249.5L218.6 247.7L216.9 246.3L215.4 245.2L214.0 246.1L214.6 248.0L215.7 250.3L216.5 252.6L215.7 254.9L214.2 253.7L212.9 251.4L211.7 249.2L210.4 247.4L208.9 246.1L207.2 245.2ZM217.5 281.5L218.1 280.3L219.5 280.3L220.2 281.5L219.5 282.8L218.1 282.8ZM215.0 238.1L217.9 237.2L220.9 235.7L224.3 234.7L224.8 232.7L224.3 230.8L226.3 229.3L228.7 228.8L231.2 227.4L233.6 225.6L236.1 223.9L238.5 222.3L241.0 220.3L243.4 218.3L245.4 216.8L247.4 215.8L250.3 215.1L252.7 214.6L255.2 215.6L258.1 215.4L261.1 214.9L264.0 214.4L267.0 213.8L269.9 213.4L272.8 213.0L275.8 212.8L278.2 212.6L279.7 213.6L280.2 215.1L282.2 216.1L284.1 215.8L286.1 215.1L288.0 214.1L289.7 212.8L290.5 211.2L290.0 209.7L291.0 208.2L292.5 206.8M288.0 222.0L289.0 219.5L290.5 217.1L292.0 215.8L292.9 216.8L292.5 218.5L291.0 220.0L289.5 221.3ZM224.8 232.7L224.8 233.7L226.3 235.2L228.7 235.4L231.2 234.7L233.6 234.2L236.1 234.7L238.5 235.2L240.7 234.7L242.0 233.2L241.7 231.3L242.9 230.1L244.4 230.5L245.4 232.1L244.9 233.7L246.4 234.2L248.8 233.2L251.3 232.1L253.7 231.5L256.2 230.8L258.6 229.8L261.1 228.8L263.2 227.8L265.0 226.9L267.0 225.9L269.4 224.9L271.9 224.4L273.8 224.9L276.3 224.4L278.7 224.9L280.9 225.4L282.5 225.6L282.6 227.4L281.7 229.3L279.7 230.8L277.7 232.1L277.3 233.7L278.2 235.7L279.7 237.4L281.7 238.9L283.6 240.3L285.6 241.3L287.5 241.1L289.0 239.6L290.5 237.6L292.0 235.7L293.4 233.7L294.9 232.1L296.9 231.3L298.8 230.8L300.8 229.8L301.8 228.3L300.8 226.9L299.3 225.9L298.3 224.4L298.8 222.5L300.3 221.3L301.8 222.0L302.7 223.4M274.3 231.8L275.8 229.5L278.2 227.8L280.5 226.6L282.2 226.9L282.5 228.3L280.7 229.8L278.7 231.1L276.6 232.5L274.8 233.0ZM242.9 243.0L243.9 241.1L246.4 239.6L248.8 238.1L251.3 236.7L253.7 235.2L256.2 234.4L258.1 235.0L259.6 233.7L261.1 232.1L263.5 231.1L266.0 230.5L268.4 230.1L270.9 230.5L272.8 231.8L273.6 233.7L272.8 235.7L271.4 237.6L269.9 239.6L268.4 241.1L267.0 243.0L265.5 244.0L263.5 243.0L261.1 241.9L258.6 241.6L256.2 242.5L254.2 244.0L252.7 246.0L251.8 248.4L250.8 250.9L248.8 251.4L246.9 250.1L245.4 247.9L244.4 245.5L243.4 244.0Z" stroke="#000" stroke-width="1.25" fill="none" stroke-linejoin="round" stroke-linecap="round"/><path d="M163.7 228.8L165.9 227.7L167.5 229.3L169.3 228.0L171.5 227.7L173.4 226.7L175.5 227.1L177.8 225.9L180.1 224.6L182.2 225.5L184.4 224.6L186.6 223.3L189.1 222.5L191.9 223.0L193.9 223.7M164.0 227.7L164.6 225.2L165.9 223.0L165.2 220.2L165.9 217.9L167.1 215.8L166.5 213.3L167.7 211.1L169.3 209.5L170.0 207.0L168.4 205.1L167.1 202.6L165.9 200.7M203.4 232.1L204.2 229.3L205.2 227.1M208.6 246.0L210.5 247.2L211.8 249.1L213.0 251.7L214.3 253.5L215.3 255.4M211.8 245.4L213.7 246.6L215.6 248.5L217.1 250.4L218.1 252.3M202.6 308.5L205.2 306.8L207.7 305.3M186.0 330.5L188.2 328.6L190.4 326.7M132.2 358.7L134.7 358.3M137.2 357.7L139.7 356.2M183.4 335.1L184.4 331.9L186.3 329.8L188.4 328.1L190.7 326.8M112.1 286.5L109.5 289.6L109.9 292.7L107.9 295.0L106.4 293.4L105.1 295.9L106.6 298.4L105.1 301.3L103.2 304.1L103.6 307.2L100.7 309.4L98.6 307.8M146.0 181.9L148.5 182.9L151.1 184.4L153.9 185.4L156.1 184.4M166.2 185.7L169.0 186.9L171.2 188.9M99.8 172.6L102.6 171.6L105.8 170.6M163.0 199.1L165.0 197.8L167.7 196.9L170.5 196.5L172.5 197.5M193.5 221.5L194.8 223.7M207.2 244.6L209.4 246.3L211.2 248.6L212.6 251.4L214.0 254.1L215.7 255.5M214.6 246.9L216.1 249.7L217.2 252.6L218.0 255.5M217.5 246.9L219.2 249.2L220.0 252.0L219.5 254.9M220.3 264.6L221.5 266.3L220.9 268.6M224.3 281.2L224.9 278.3L226.0 275.8M262.1 228.8L264.5 227.5L267.0 226.6M242.9 230.8L244.4 231.5L244.4 233.4M272.8 232.1L273.6 233.7" stroke="#000" stroke-width="2.3" fill="none" stroke-linejoin="round" stroke-linecap="round"/><g fill="#000"><path d="M136.7 89.7L139.2 90.2L141.3 91.3L140.8 92.3L138.3 91.5Z" stroke="#000" stroke-width="0.8"/><path d="M169.7 111.0L171.7 110.7L173.8 112.3L173.0 113.7L170.8 112.7Z" stroke="#000" stroke-width="0.8"/><path d="M199.7 106.8L198.3 108.0L196.3 110.2L198.3 110.7L200.0 108.5Z" stroke="#000" stroke-width="0.8"/><ellipse cx="355.5" cy="91.8" rx="1.5" ry="1.2"/><ellipse cx="333.3" cy="130.5" rx="1.4" ry="1.1"/><ellipse cx="337.1" cy="159.2" rx="1.6" ry="1.3"/><ellipse cx="426.4" cy="109.5" rx="2.0" ry="1.7"/><ellipse cx="344.2" cy="208.4" rx="2.0" ry="1.7"/><ellipse cx="208.6" cy="237.6" rx="1.8" ry="1.5"/><path d="M194.8 252.3L196.7 250.4L198.6 251.0L197.3 252.9Z" stroke="#000" stroke-width="0.8"/><path d="M199.8 248.5L201.1 246.6L202.0 247.6L200.7 249.4Z" stroke="#000" stroke-width="0.8"/><ellipse cx="102.0" cy="164.3" rx="2.0" ry="1.7"/><ellipse cx="152.9" cy="185.4" rx="1.8" ry="1.5"/><ellipse cx="168.0" cy="187.3" rx="1.6" ry="1.3"/><ellipse cx="179.6" cy="167.2" rx="1.4" ry="1.1"/><ellipse cx="93.8" cy="267.6" rx="1.1" ry="0.9"/><ellipse cx="110.8" cy="285.2" rx="1.6" ry="1.3"/><ellipse cx="107.6" cy="292.7" rx="1.6" ry="1.3"/><path d="M201.4 307.8L203.9 306.0L207.7 304.7L208.9 305.3L206.4 307.8L203.9 309.7L202.0 309.4Z" stroke="#000" stroke-width="0.8"/><ellipse cx="198.9" cy="313.5" rx="1.6" ry="1.3"/><path d="M185.0 330.5L187.5 328.0L190.1 326.1L191.3 327.0L188.8 329.5L186.3 331.7Z" stroke="#000" stroke-width="0.8"/><path d="M131.6 358.3L133.4 357.1L135.3 358.0L134.7 359.2L132.6 359.6Z" stroke="#000" stroke-width="0.8"/><path d="M136.6 357.1L138.5 355.8L140.4 354.9L139.7 357.1L138.5 358.7L136.8 358.3Z" stroke="#000" stroke-width="0.8"/><path d="M151.4 351.4L152.9 350.8L154.5 353.3L152.3 353.3Z" stroke="#000" stroke-width="0.8"/><path d="M182.5 335.1L183.1 331.9L185.0 329.4L187.5 327.5L190.1 326.0L191.7 326.5L190.7 328.8L188.4 330.7L186.7 332.5L185.0 335.1L183.4 336.3Z" stroke="#000" stroke-width="0.8"/><ellipse cx="254.7" cy="206.3" rx="1.4" ry="1.2"/><ellipse cx="254.2" cy="215.4" rx="1.1" ry="0.9"/><ellipse cx="300.8" cy="223.6" rx="1.2" ry="1.0"/></g>
</g>
<rect x="85.55" y="31.4" width="383.05" height="382.70000000000005" fill="none" stroke="#000" stroke-width="0.9"/>
<text x="80.0" y="96.5" font-size="8.2" text-anchor="end" textLength="18.7" lengthAdjust="spacingAndGlyphs">45°N</text><text x="80.0" y="160.3" font-size="8.2" text-anchor="end" textLength="18.7" lengthAdjust="spacingAndGlyphs">40°N</text><text x="80.0" y="224.4" font-size="8.2" text-anchor="end" textLength="18.7" lengthAdjust="spacingAndGlyphs">35°N</text><text x="80.0" y="288.0" font-size="8.2" text-anchor="end" textLength="18.7" lengthAdjust="spacingAndGlyphs">30°N</text><text x="80.0" y="351.6" font-size="8.2" text-anchor="end" textLength="18.7" lengthAdjust="spacingAndGlyphs">25°N</text><text x="149.6" y="424.7" font-size="8.2" text-anchor="middle" textLength="21.8" lengthAdjust="spacingAndGlyphs">125°E</text><text x="213.3" y="424.7" font-size="8.2" text-anchor="middle" textLength="21.8" lengthAdjust="spacingAndGlyphs">130°E</text><text x="277.1" y="424.7" font-size="8.2" text-anchor="middle" textLength="21.8" lengthAdjust="spacingAndGlyphs">135°E</text><text x="341.0" y="424.7" font-size="8.2" text-anchor="middle" textLength="21.8" lengthAdjust="spacingAndGlyphs">140°E</text><text x="404.6" y="424.7" font-size="8.2" text-anchor="middle" textLength="21.8" lengthAdjust="spacingAndGlyphs">145°E</text>
<text x="276.8" y="26" font-size="12" text-anchor="middle" textLength="271.5">GSMAP_NRT_1HR estimates for 20251202 07</text>
<g clip-path="url(#cr)">
<rect x="555.55" y="31.4" width="383.05000000000007" height="382.70000000000005" fill="#fff"/>
<path d="M803.0 93.1L814.1 90.4L823.3 88.5L832.6 88.5L836.3 93.1L851.1 96.9L858.5 93.1L873.3 93.1L877.0 95.9L893.7 99.6L903.0 107.0L904.8 114.4L903.9 125.6L901.1 133.0L897.4 139.4L888.1 143.1L882.6 146.9L877.0 147.8L858.5 147.8L851.1 151.5L847.4 157.0L853.0 162.6L855.7 170.0L856.7 177.4L855.8 183.3L850.8 195.0L845.0 201.7L843.3 216.7L840.0 225.0L835.0 231.7L826.7 236.7L816.7 243.3L808.0 250.0L797.4 250.6L780.7 251.5L773.3 255.2L767.8 262.6L758.5 266.3L751.1 270.0L740.0 271.9L729.6 272.5L725.9 277.8L725.9 287.0L720.4 294.4L711.1 303.7L707.4 311.1L706.5 322.2L700.0 325.9L690.7 331.5L684.0 338.5L681.7 348.5L674.3 356.0L667.1 360.6L659.7 362.4L643.0 361.5L637.5 362.4L635.6 371.7L630.1 379.1L619.9 383.7L611.6 383.7L596.7 382.8L591.2 379.1L585.6 375.4L581.0 369.8L578.2 364.3L580.1 356.9L579.1 349.4L581.9 341.1L591.2 334.6L600.4 330.0L611.4 329.3L619.0 329.1L626.2 323.8L630.0 316.3L637.5 310.8L645.4 305.6L646.3 294.4L655.6 286.1L661.1 281.5L664.8 274.1L664.0 262.0L660.4 258.9L655.7 251.5L656.7 231.1L670.6 223.7L678.9 215.4L684.4 212.6L691.9 203.3L693.7 195.9L704.8 192.2L710.4 188.5L732.6 187.6L740.0 182.0L751.1 181.1L762.2 175.6L767.8 170.0L775.2 166.3L776.1 157.0L779.8 147.8L782.6 141.3L782.2 127.4L786.3 121.9L785.9 109.8L793.7 99.6Z" fill="#ffe8bd"/><path d="M793.7 99.6L803.0 93.1L814.1 90.4L823.3 88.5L831.7 88.5L836.3 93.1L851.1 96.9L860.4 101.5L862.2 108.9L858.5 116.3L851.1 125.6L843.7 133.0L840.0 140.4L840.9 147.8L836.3 153.3L828.9 157.0L827.0 166.3L823.3 173.7L817.8 184.8L801.1 184.8L799.3 173.7L802.0 166.3L806.7 157.0L807.6 147.8L810.4 140.4L808.5 133.0L804.8 125.6L797.4 118.1L790.0 113.5L788.5 107.0ZM747.4 192.2L758.5 186.7L769.6 183.0L780.7 179.3L791.9 173.7L799.3 170.0L817.8 170.0L814.1 177.4L806.7 184.8L795.6 190.4L786.3 195.9L777.0 201.5L767.8 207.0L758.5 209.8L751.1 209.8L745.6 205.2L742.8 199.6ZM687.0 263.0L700.0 259.3L718.5 253.7L733.3 250.0L766.7 250.0L763.0 257.4L751.9 263.0L740.7 264.8L729.6 268.5L724.1 275.9L720.4 287.0L711.1 298.1L703.7 305.6L696.3 313.0L687.0 320.4L681.5 327.8L681.5 337.0L677.8 342.6L670.4 346.3L661.1 346.3L655.6 340.7L646.3 342.6L640.7 350.0L637.0 357.4L635.2 364.8L620.4 364.8L624.1 353.7L629.6 346.3L632.4 335.2L637.0 327.8L642.6 318.5L648.1 311.1L655.6 303.7L661.1 296.3L666.7 288.9L674.1 285.2L681.5 279.6L687.0 272.2ZM704.1 305.0L693.0 312.4L685.6 316.1L678.2 316.1L669.0 319.8L659.7 323.5L652.3 329.1L650.4 336.5L654.1 342.0L656.0 351.3L648.6 355.0L643.0 358.7L637.5 360.6L635.6 355.0L637.5 347.6L633.8 340.2L630.1 332.8L631.9 323.5L635.6 316.1L643.0 310.6L648.6 305.0ZM600.4 335.6L604.1 332.8L607.9 335.6L604.1 338.3ZM620.8 341.7L624.5 338.3L628.2 341.7L624.5 344.8ZM598.6 349.4L607.9 345.7L617.1 349.4L607.9 353.1ZM583.8 355.9L590.3 351.3L596.7 355.9L590.3 360.6ZM580.1 368.0L585.6 366.1L593.0 373.5L592.1 379.1L585.6 375.4ZM602.3 380.0L607.9 377.2L613.4 380.6L607.9 383.7ZM798.3 150.0L830.0 150.0L826.7 160.0L823.3 170.0L818.3 178.3L820.0 186.7L815.0 193.3L801.7 196.7L790.0 200.0L780.0 203.3L770.0 208.3L760.0 211.7L760.0 188.3L766.7 183.3L776.7 176.7L788.3 171.7L796.7 165.0ZM785.0 253.3L788.3 245.0L796.7 240.0L806.7 236.7L815.0 231.7L821.7 235.0L816.7 241.7L810.0 246.7L806.7 253.3ZM697.5 230.2L702.6 225.8L708.9 221.4L715.2 218.2L718.9 217.0L727.7 215.7L740.3 214.1L747.2 213.2L747.9 217.0L745.4 219.5L737.8 220.7L731.5 221.1L727.7 220.1L724.0 221.4L718.9 223.9L713.9 226.4L708.9 228.9L703.8 231.4L700.1 232.1ZM708.9 241.5L715.2 238.3L722.7 234.6L731.5 230.8L740.3 229.5L745.4 227.6L747.2 222.0L752.9 220.1L760.5 222.6L766.1 225.1L770.5 229.5L766.7 233.3L763.0 236.5L761.7 241.5L765.5 246.5L770.5 249.7L765.5 253.4L760.5 255.3L755.4 254.7L752.9 259.1L747.9 264.1L742.8 266.7L737.8 267.9L732.8 270.4L727.7 275.5L722.7 283.0L685.0 283.0L685.0 257.8L690.0 255.3L693.8 252.8L697.5 249.0L702.6 247.8L706.4 250.3L708.9 246.5L707.6 242.7ZM783.1 247.1L790.7 242.7L799.5 240.9L808.3 236.5L815.8 233.3L825.9 231.7L825.9 236.5L817.1 238.7L810.8 244.0L803.2 250.9L796.9 252.8L788.1 252.2ZM760.5 205.0L770.5 205.0L768.0 208.8L763.0 210.0L759.8 208.1Z" fill="#dcffc8"/><path d="M799.3 109.8L804.8 106.1L815.9 103.3L823.3 103.3L832.6 104.3L838.1 107.0L840.9 118.1L840.0 131.1L836.3 138.5L832.6 147.8L827.0 155.2L823.3 166.3L817.8 173.7L814.1 184.8L804.8 184.8L803.0 173.7L804.8 166.3L809.4 157.0L811.3 147.8L813.1 140.4L814.1 133.0L817.8 125.6L821.5 118.1L819.6 112.6L810.4 111.7L801.1 112.6ZM727.0 264.8L729.8 262.6L732.6 264.8L729.8 267.2ZM711.3 272.8L715.0 270.0L718.7 272.8L715.0 275.6ZM798.3 245.9L803.0 244.1L807.6 245.9L803.0 247.8ZM765.9 204.3L773.3 197.8L784.4 193.1L788.1 195.0L780.7 200.6L771.5 206.1ZM801.1 170.0L814.1 170.0L812.2 177.4L805.7 182.0L801.1 179.3ZM672.2 290.7L677.8 288.0L687.0 288.9L688.9 293.5L681.5 296.3L674.1 295.4ZM710.2 272.2L715.7 268.5L718.5 271.3L713.0 275.9ZM724.1 263.9L728.7 262.0L730.6 264.8L725.9 267.0ZM688.9 287.0L696.3 280.6L703.7 278.7L707.4 282.4L703.7 288.0L696.3 293.5L692.6 301.9L688.9 309.3L681.5 316.7L676.9 314.8L679.6 309.3L685.2 303.7L686.1 297.2ZM675.9 317.6L678.7 316.7L679.6 320.4L676.9 321.9ZM639.8 356.5L644.4 354.6L648.1 357.4L645.4 361.1L640.7 360.7ZM640.3 355.9L644.9 354.6L648.2 357.8L645.8 361.5L641.2 360.6ZM676.4 318.0L679.1 317.0L679.7 319.8L677.3 320.7ZM800.0 173.3L801.7 165.0L808.3 156.7L810.0 150.0L825.0 150.0L821.7 160.0L816.7 168.3L811.7 176.7L806.7 181.7L801.7 180.8ZM798.3 245.8L805.0 244.2L807.5 246.7L803.3 248.7L799.2 248.3ZM760.0 205.0L770.0 200.0L781.7 195.0L785.0 196.7L776.7 201.7L768.3 206.7L760.0 209.2Z" fill="#96ff96"/><path d="M827.0 111.7L832.6 106.1L837.2 108.0L839.1 118.1L838.1 129.3L834.4 137.6L830.7 145.9L826.1 151.5L821.5 158.9L817.8 166.3L812.2 173.7L805.7 175.6L803.0 170.9L805.7 164.4L811.3 157.0L814.1 149.6L815.0 142.2L819.6 134.8L823.3 125.6L825.2 118.1ZM766.9 203.3L773.3 198.7L776.1 200.6L770.6 206.1L767.4 206.1ZM777.0 196.9L783.5 193.1L786.3 195.0L780.7 198.7ZM803.0 170.0L811.3 170.0L809.4 177.4L805.7 179.3L803.3 175.6ZM691.7 288.0L697.2 282.4L702.8 279.6L706.5 282.4L702.8 287.0L697.2 291.7L692.6 292.6ZM677.8 289.8L684.3 288.9L686.1 292.6L681.5 294.4ZM686.1 299.1L690.7 297.2L692.6 300.9L688.9 303.7ZM679.6 309.3L685.2 305.6L690.7 305.6L688.9 310.2L683.3 314.8L678.7 313.9ZM680.1 310.6L685.6 305.9L690.3 305.0L689.3 308.7L683.8 314.3L680.4 314.3ZM611.6 381.9L615.3 378.1L620.8 377.2L624.5 373.5L628.2 367.0L633.8 364.3L637.5 365.2L636.6 369.8L631.9 376.3L626.4 380.9L620.8 383.7L613.4 383.7ZM804.2 176.7L805.0 170.0L810.0 163.3L810.8 155.0L813.3 150.0L820.0 150.0L818.3 158.3L814.2 166.7L810.0 175.0L807.5 180.0ZM766.7 203.3L771.7 199.2L776.7 197.5L774.2 201.7L768.3 205.0ZM778.3 196.7L783.3 194.2L784.2 196.3L780.0 198.3Z" fill="#64ffff"/><path d="M828.9 120.0L832.6 116.3L836.3 118.1L837.2 125.6L833.5 130.2L828.9 129.3L826.1 125.6ZM814.1 140.4L819.6 137.6L827.0 138.5L828.9 144.1L825.2 148.7L817.8 149.6L814.1 145.9ZM803.9 168.1L807.6 163.5L811.3 165.4L811.3 170.9L806.7 173.7L803.3 171.9ZM778.9 195.9L783.5 193.7L784.4 195.6L780.4 197.8ZM690.7 288.9L695.4 286.1L700.9 285.2L700.0 288.0L696.3 291.7L692.2 292.2ZM803.0 168.3L805.8 164.2L810.0 162.5L810.8 166.7L808.3 170.8L804.2 171.3Z" fill="#00c8ff"/><path d="M828.0 122.8L831.7 119.1L835.4 120.9L835.4 125.6L831.7 128.9L828.0 127.4ZM815.0 141.3L819.6 138.9L826.1 140.0L827.0 144.1L823.3 147.4L817.8 147.8ZM804.4 168.1L807.6 164.8L810.4 166.3L810.0 170.4L806.3 172.2ZM692.0 289.3L697.2 288.0L697.8 290.4L693.5 291.7ZM613.8 381.3L616.7 378.1L621.2 378.1L622.3 380.9L619.9 383.7L614.9 383.7ZM624.1 376.3L627.3 368.9L632.9 365.2L636.6 366.1L635.6 369.8L631.0 376.3L626.4 380.0ZM803.7 168.0L806.3 165.0L809.7 163.7L810.0 166.7L807.5 170.0L804.7 170.3Z" fill="#0064ff"/><path d="M828.5 124.1L831.7 120.9L834.4 122.8L834.1 126.5L830.7 128.3ZM805.2 168.1L807.6 165.9L809.4 167.2L808.9 170.0L806.3 171.1ZM805.8 166.7L808.3 164.7L809.3 166.7L807.5 169.2Z" fill="#9664ff"/><path d="M829.3 124.6L831.7 122.4L833.5 124.1L832.6 126.7L830.4 127.4ZM615.3 380.9L617.5 379.1L620.8 379.4L620.8 382.4L616.7 383.1ZM625.4 376.3L628.6 369.8L632.3 367.6L632.9 370.7L629.7 376.3L626.4 378.7Z" fill="#dc64ff"/><path d="M648.5 313.0L655.6 312.0L656.5 316.3L650.0 317.0ZM647.2 333.3L659.3 331.5L662.0 338.9L655.6 345.4L648.1 342.6ZM707.6 255.3L715.2 253.4L725.2 254.1L731.5 257.8L727.7 262.9L718.9 264.1L710.1 261.6Z" fill="#ffe8bd"/>
<path d="M618.5 31.4V414.1M682.4 31.4V414.1M746.4 31.4V414.1M810.4 31.4V414.1M873.9 31.4V414.1M555.55 94.4H938.6000000000001M555.55 158.2H938.6000000000001M555.55 222.3H938.6000000000001M555.55 285.9H938.6000000000001M555.55 349.5H938.6000000000001" stroke="#000" stroke-opacity="0.42" stroke-width="0.6" fill="none"/>
<path d="M617.5 115.7L616.0 117.0L617.0 118.5M686.7 71.0L689.2 69.0L692.5 66.8L696.7 66.0L701.7 65.7L707.5 65.5L711.7 63.5L715.0 59.7L717.5 56.8L721.7 55.2L726.7 54.3L730.8 52.7L735.0 51.3M696.3 60.2L700.8 59.7L705.0 60.3L710.0 59.7L714.2 59.3M708.3 91.0L711.7 89.7L715.8 89.7L718.3 91.8L718.7 94.3L716.7 96.8L715.0 99.3L712.5 100.3L710.0 99.0L708.3 96.3L708.0 93.5ZM682.5 132.7L686.7 129.3L690.8 126.8L693.0 124.3L696.7 124.7L700.0 121.8L702.5 119.3L705.0 116.3L707.5 115.7L710.8 116.3L711.7 119.3L712.5 121.8L715.8 121.8L719.2 123.0L721.7 123.5L726.7 122.3L731.7 121.3L735.0 120.7M705.0 116.8L706.7 115.7L708.7 116.3L708.0 119.3L705.8 120.2ZM725.0 54.3L731.7 52.0L740.0 49.8L746.7 48.2L753.3 46.0L758.3 43.5L762.0 40.2L764.2 36.8L762.5 33.5L765.8 32.3L769.7 33.5L768.7 36.3L765.0 37.3M816.3 32.3L817.0 36.0L815.0 40.2L814.2 43.5L812.5 47.7L808.3 52.7L803.3 57.7L799.2 61.8L795.0 66.0L791.7 70.2L788.3 74.7L784.2 79.3L779.2 84.3L774.2 88.5L769.2 93.0L764.2 97.7L759.2 101.8L754.2 106.8L750.0 111.0L745.0 115.2L740.0 117.7L734.2 120.7L729.2 122.3L725.0 123.0M837.0 31.0L837.5 37.7L835.3 41.8L833.3 46.0L835.0 48.5L836.3 52.7L837.0 56.0L835.8 59.3L835.0 62.7L836.3 66.0L835.3 70.2L834.2 74.3L835.0 78.5L836.3 81.8L838.3 81.0L840.0 76.8L841.7 73.5L844.2 71.8L847.5 72.7L850.8 73.5L852.5 76.0L853.3 78.5L854.2 81.0L855.3 78.5L855.0 75.2L854.2 71.8L851.7 71.0L849.2 68.5L847.5 64.3L845.0 61.8L843.0 58.5L842.5 55.2L843.7 51.0L845.3 46.8L847.5 43.5L850.8 41.0L855.8 39.3L860.8 40.2L865.0 42.7L868.3 45.2L870.3 47.7L869.7 45.2L866.7 41.0L864.2 36.8L862.0 31.0M834.2 87.7L831.7 89.0L830.3 91.9L831.7 95.3L832.5 99.3L831.7 104.3L830.3 106.3L828.4 108.8L827.2 112.0L827.6 114.5L825.3 115.8L822.1 116.1L818.4 115.8L815.2 115.4L813.7 117.0L815.0 119.5L814.0 122.1L811.5 123.7L808.7 124.6L807.4 126.5L808.3 129.0L809.6 131.5L810.2 134.0L809.9 137.1L811.5 139.7L814.0 140.5L815.9 139.0L817.7 137.1L820.3 135.9L823.4 135.5L825.0 134.3L823.4 132.5L820.9 131.5L818.4 130.6L815.9 129.2L814.2 127.5L814.6 125.4L816.5 124.9L819.6 125.8L822.8 127.1L825.9 127.5L829.1 126.5L832.2 125.2L835.4 125.8L839.1 127.5L842.9 129.0L846.7 130.9L849.8 132.5L851.7 133.4L852.7 130.9L854.2 128.3L856.1 125.8L858.6 123.3L861.8 121.4L865.6 120.2L870.0 119.5L873.7 118.9L876.9 117.6L879.4 117.0L881.9 116.4L884.4 115.1L881.9 115.1L879.4 115.1L877.5 113.6L876.6 111.4L876.9 108.8L877.9 106.3L878.4 104.1L877.5 103.6L875.6 105.3L873.7 107.0L870.6 107.3L864.3 106.1L856.7 103.2L851.7 101.8L847.4 98.5L843.3 95.3L840.0 91.9L836.7 89.3ZM807.1 173.0L808.3 167.3L809.2 163.6L809.6 160.4L807.9 158.5L808.7 155.4L809.2 151.6L810.2 147.8L812.1 144.7L814.0 142.2L815.9 140.9L817.7 141.8L818.4 144.3L819.6 146.3L821.5 146.8L823.4 146.0L824.7 143.4L823.8 141.3L822.1 140.0L820.3 139.3L822.8 138.4L825.9 138.8L827.8 140.3L828.4 142.6L827.6 144.7L826.8 146.8L827.2 149.1L828.4 151.0L830.3 152.9L832.2 155.4L833.9 158.5L835.1 161.7L836.0 164.8L835.4 168.0L833.5 170.5L831.6 173.0M879.4 110.7L880.7 109.1L882.5 107.6L884.4 105.7L886.7 103.6L888.8 101.9L890.7 100.7L892.6 101.0L890.7 102.5L888.5 104.4L886.3 106.3L884.4 108.2L882.2 110.1L880.4 111.4ZM897.6 100.7L900.8 98.1L905.8 95.0L912.1 91.9L918.4 88.7L922.8 86.4L924.1 87.7L919.7 90.2L913.4 93.5L907.1 96.8L902.0 99.8L898.9 101.9ZM930.7 86.7L934.1 83.7L937.9 81.4L938.8 82.4L935.4 85.2L932.0 87.7ZM810.4 158.7L810.7 163.8L809.8 166.9L808.5 170.1L806.7 173.2L804.8 176.4L803.1 179.5L801.0 182.0L797.8 183.9L794.7 185.8L792.2 188.3L789.7 190.8L786.5 193.0L783.4 195.0L780.2 196.7L777.5 197.7L775.2 199.0L773.3 199.3L772.1 197.1L770.8 195.2L772.1 193.3L774.6 192.1L775.8 190.2L774.2 189.9L771.4 191.2L768.9 192.7L767.6 194.6L768.7 196.7L769.2 199.0L767.6 200.9L765.4 202.8L763.2 204.7L761.1 206.6M787.1 184.5L788.4 182.0L790.0 180.4L791.3 181.1L790.9 183.3L789.3 185.2L787.8 186.2ZM835.3 158.7L836.2 163.1L835.6 166.3L833.7 169.4L831.8 172.0L830.6 175.1L829.5 178.2L828.0 179.9L825.5 179.1L823.0 180.1L822.0 182.6L822.8 185.8L823.3 188.9L822.8 192.7L821.5 196.5L819.9 200.3L818.6 204.0L817.7 207.2L818.6 209.7L820.5 211.6L820.2 213.5L818.0 214.1L816.1 216.0L814.2 217.9L812.9 220.1L811.1 221.7L809.2 222.7L807.3 221.7L806.0 219.1L806.7 216.6L808.5 214.7L810.4 215.4L809.8 217.9L808.5 220.1L807.3 219.1L806.0 219.1L804.1 218.1L802.2 218.9L800.4 220.1L799.1 222.9L798.5 225.4L796.6 227.3L794.7 226.1L794.3 223.5L795.1 221.0L793.4 220.4L790.9 221.7L789.0 223.5L787.1 225.4L784.0 226.1L780.9 225.4L778.0 225.2L775.2 225.7L772.9 225.4L770.8 224.4M772.9 225.4L775.2 224.2L778.0 223.9L780.9 224.4L778.0 225.2M671.7 188.7L673.6 192.5L674.9 195.7L675.5 199.4L675.2 203.2L675.7 206.4L676.7 208.9L676.1 211.4L674.9 214.5L673.6 217.1L671.7 219.2L669.2 220.8L666.7 221.5L664.8 220.2L663.5 222.1L664.8 224.0L664.2 225.2L661.7 224.2L659.1 223.3L657.2 224.2L655.4 225.9L652.8 226.5L650.3 225.5L648.4 227.1L645.9 227.7L643.4 228.4L640.9 229.3L638.4 230.0L636.5 230.5L634.6 229.6L633.0 230.0L633.3 227.7L635.2 225.9L636.5 224.0L635.5 221.5L635.0 218.9L636.5 217.1L637.5 214.5L636.7 212.0L638.4 210.1L640.0 208.9L640.9 206.4L639.0 204.8L637.5 202.6L636.5 200.3L634.6 200.1L633.0 199.1L634.6 197.3L637.1 196.9L639.6 196.0L641.5 197.5L643.4 197.8L642.1 195.7L640.9 193.1L640.3 191.3L639.6 188.7M633.3 242.8L635.9 241.0L640.3 240.3L643.4 241.0L643.8 242.6L640.9 244.4L637.1 245.1L634.0 244.7ZM672.3 233.4L673.0 230.3L674.5 227.1L675.7 225.5L676.5 227.1L675.5 230.0L674.2 232.8L673.2 234.0ZM693.4 231.5L695.0 230.0L698.1 229.3M555.0 157.5L558.8 155.9L561.3 153.3L563.8 150.8L566.3 148.3L568.8 146.7L572.0 146.2L575.1 146.4L577.6 145.8L578.3 144.5L578.9 146.4L580.8 147.9L582.7 148.9L583.3 150.8L582.1 153.3L580.2 155.9L578.3 157.7L575.8 159.6L573.9 161.5L572.6 163.4L571.4 164.7L573.2 165.3L575.1 166.3L578.3 165.9L575.1 167.2L574.5 169.3L576.4 170.3L573.9 171.8L571.4 172.6L569.5 173.5L569.1 171.8L571.4 171.0L573.9 170.3L576.4 171.0L579.5 169.7L582.1 167.6L585.2 165.5L588.3 164.0L591.5 162.8L595.3 161.5L598.4 160.9L600.9 160.0L604.1 160.3L607.2 160.0L609.1 158.8L611.0 160.3L612.9 161.5L614.8 162.1L617.3 162.8L619.8 163.8L622.9 163.4L625.5 163.0L623.9 164.7L623.6 167.2L622.9 169.7L621.7 171.6L620.7 173.9L623.6 174.4L626.1 175.1L622.9 175.6L619.8 176.0L618.5 177.9L617.3 180.4L615.4 181.9L617.9 182.3L619.8 183.5L621.7 184.8L623.6 185.7L625.5 184.8L627.3 183.9L629.9 184.8L632.4 185.4L634.9 186.1L637.4 185.4L639.3 186.7L640.6 188.6L641.8 189.2L640.6 190.5L641.2 193.0L640.6 195.5L638.0 196.5L640.6 198.0M617.7 151.5L619.8 150.4L622.9 149.6M690.0 128.6L687.1 129.1L684.6 130.7L682.1 132.6L679.6 135.1L678.0 137.6L678.9 140.1L679.6 142.6L678.9 145.8L676.4 147.1L673.3 148.7L670.1 150.8L667.0 152.7L663.8 154.6L660.7 156.5L657.5 157.5L654.4 158.4L651.9 160.0L650.6 162.1L650.4 164.7L648.7 167.2L650.0 169.1L651.9 169.7L654.4 171.6L657.5 173.5L660.7 175.4L662.6 177.9L664.5 181.0L666.3 184.2L668.2 186.7L670.1 189.2L672.0 191.7L673.9 194.2L675.2 197.0M555.0 188.6L558.8 186.7L561.9 185.7L565.1 185.4L567.6 186.7L570.1 188.6L572.6 189.8L575.8 190.5L578.9 189.8L582.1 190.5L585.2 191.1L588.7 191.5L587.1 193.0L585.8 195.5L586.5 197.0M585.8 195.7L588.0 193.1L589.0 191.9L587.1 192.3L583.9 191.5L580.2 191.0L577.0 190.6L573.9 190.0M589.0 193.1L588.0 195.0L586.5 196.9L585.2 198.6L583.3 197.5L580.8 198.2L578.3 199.1L575.8 199.8L573.2 200.7L570.7 201.3L568.2 201.6L565.7 202.6L563.8 204.5L561.9 206.1L560.0 207.0L558.1 207.4L556.9 208.9L555.0 210.1M555.6 207.0L557.5 206.1L558.8 207.6L557.8 209.5L556.0 209.9ZM555.0 229.6L557.5 232.1L558.8 234.7L560.0 237.2L561.3 239.7L562.3 242.2L563.2 244.7L564.1 247.2L565.7 249.8L567.0 252.3L568.8 254.2L570.7 256.1L572.6 257.9L574.5 259.2L576.4 260.5L578.3 262.0L578.9 264.2L577.6 266.1L576.4 267.4M555.0 260.5L559.4 259.2L562.5 258.9L565.7 259.8L568.2 261.7L570.1 263.6L572.0 265.2L573.9 267.4M570.7 253.7L572.6 257.5L575.8 260.7L578.3 263.8L578.7 267.0L576.4 266.3L573.2 264.8L570.1 263.2L567.0 261.3L563.8 259.8L560.0 260.0L555.0 261.3M567.0 262.5L571.4 265.1L575.8 267.3L578.9 270.1L579.5 273.9L577.0 275.8L573.9 277.0L570.7 278.3L567.6 279.5L564.4 280.8L562.5 282.1L563.8 284.6L561.3 283.3L558.1 283.7L555.0 283.9M562.5 285.2L566.3 283.3L570.1 282.1L573.9 282.1L576.4 283.9L578.3 285.8L580.8 284.2L583.3 284.6L584.6 285.8L582.1 287.1L580.2 288.0L578.9 290.2L580.2 292.7L579.5 295.3L577.6 296.5L575.8 294.0L573.9 292.1L575.1 295.3L577.0 298.4L575.8 300.9L573.9 302.8L572.6 305.3L573.9 307.8L572.0 309.1L569.5 310.4L568.2 308.5L568.8 306.6L567.0 308.5L565.7 311.0L563.8 311.6L561.9 310.4L563.2 312.9L562.5 315.4L561.3 317.9L560.0 320.4L558.8 322.9L557.5 325.5L556.5 328.6L555.0 331.7M555.0 267.0L558.8 266.3L560.7 268.2L561.3 271.4L559.4 273.6L555.0 274.1M574.5 345.8L577.0 347.0L579.5 348.3L578.9 351.4L577.6 355.2L576.4 359.6L574.9 364.0L573.2 368.4L571.4 372.8L569.5 376.6L567.6 380.4L566.6 384.1L566.1 387.3L564.8 389.2L563.6 386.7L561.9 383.5L560.0 380.4L558.1 377.2L556.9 373.4L556.5 369.0L557.3 365.3L558.8 362.1L560.7 359.0L562.5 355.8L564.8 352.7L567.0 350.2L569.5 348.3L572.0 346.6ZM675.4 244.0L677.7 242.3L680.6 240.6L683.4 239.4L686.3 238.3L689.2 236.9L692.0 235.8L694.3 235.1L695.5 236.6L694.9 238.3L696.6 238.9L699.5 239.4L701.7 240.0L703.5 241.7L704.6 244.0L705.8 246.3L707.5 248.0L706.9 250.3L705.2 252.6L704.0 254.9L702.9 257.7L702.1 260.6L701.2 263.5L700.0 266.3L698.3 268.0L696.6 268.9L694.9 268.3L694.3 270.3L693.2 272.0L691.8 273.2L690.7 272.0L690.9 269.7L692.0 267.5L692.6 265.2L691.5 264.0L690.0 265.2L689.2 267.5L689.5 269.7L688.4 270.9L686.9 269.7L685.7 268.0L684.6 266.3L684.2 264.0L684.9 261.7L684.6 259.5L683.4 257.7L682.3 256.0L682.9 254.1L684.2 255.2L685.7 256.6L687.5 257.2L689.2 256.0L690.3 254.1L690.7 251.8L690.0 249.5L688.6 247.7L686.9 246.3L685.4 245.2L684.0 246.1L684.6 248.0L685.7 250.3L686.5 252.6L685.7 254.9L684.2 253.7L682.9 251.4L681.7 249.2L680.4 247.4L678.9 246.1L677.2 245.2ZM687.5 281.5L688.1 280.3L689.5 280.3L690.2 281.5L689.5 282.8L688.1 282.8ZM685.0 238.1L687.9 237.2L690.9 235.7L694.3 234.7L694.8 232.7L694.3 230.8L696.3 229.3L698.7 228.8L701.2 227.4L703.6 225.6L706.1 223.9L708.5 222.3L711.0 220.3L713.4 218.3L715.4 216.8L717.4 215.8L720.3 215.1L722.7 214.6L725.2 215.6L728.1 215.4L731.1 214.9L734.0 214.4L737.0 213.8L739.9 213.4L742.8 213.0L745.8 212.8L748.2 212.6L749.7 213.6L750.2 215.1L752.2 216.1L754.1 215.8L756.1 215.1L758.0 214.1L759.7 212.8L760.5 211.2L760.0 209.7L761.0 208.2L762.5 206.8M758.0 222.0L759.0 219.5L760.5 217.1L762.0 215.8L762.9 216.8L762.5 218.5L761.0 220.0L759.5 221.3ZM694.8 232.7L694.8 233.7L696.3 235.2L698.7 235.4L701.2 234.7L703.6 234.2L706.1 234.7L708.5 235.2L710.7 234.7L712.0 233.2L711.7 231.3L712.9 230.1L714.4 230.5L715.4 232.1L714.9 233.7L716.4 234.2L718.8 233.2L721.3 232.1L723.7 231.5L726.2 230.8L728.6 229.8L731.1 228.8L733.2 227.8L735.0 226.9L737.0 225.9L739.4 224.9L741.9 224.4L743.8 224.9L746.3 224.4L748.7 224.9L750.9 225.4L752.5 225.6L752.6 227.4L751.7 229.3L749.7 230.8L747.7 232.1L747.3 233.7L748.2 235.7L749.7 237.4L751.7 238.9L753.6 240.3L755.6 241.3L757.5 241.1L759.0 239.6L760.5 237.6L762.0 235.7L763.4 233.7L764.9 232.1L766.9 231.3L768.8 230.8L770.8 229.8L771.8 228.3L770.8 226.9L769.3 225.9L768.3 224.4L768.8 222.5L770.3 221.3L771.8 222.0L772.7 223.4M744.3 231.8L745.8 229.5L748.2 227.8L750.5 226.6L752.2 226.9L752.5 228.3L750.7 229.8L748.7 231.1L746.6 232.5L744.8 233.0ZM712.9 243.0L713.9 241.1L716.4 239.6L718.8 238.1L721.3 236.7L723.7 235.2L726.2 234.4L728.1 235.0L729.6 233.7L731.1 232.1L733.5 231.1L736.0 230.5L738.4 230.1L740.9 230.5L742.8 231.8L743.6 233.7L742.8 235.7L741.4 237.6L739.9 239.6L738.4 241.1L737.0 243.0L735.5 244.0L733.5 243.0L731.1 241.9L728.6 241.6L726.2 242.5L724.2 244.0L722.7 246.0L721.8 248.4L720.8 250.9L718.8 251.4L716.9 250.1L715.4 247.9L714.4 245.5L713.4 244.0Z" stroke="#000" stroke-width="1.25" fill="none" stroke-linejoin="round" stroke-linecap="round"/><path d="M633.7 228.8L635.9 227.7L637.5 229.3L639.3 228.0L641.5 227.7L643.4 226.7L645.5 227.1L647.8 225.9L650.1 224.6L652.2 225.5L654.4 224.6L656.6 223.3L659.1 222.5L661.9 223.0L663.9 223.7M634.0 227.7L634.6 225.2L635.9 223.0L635.2 220.2L635.9 217.9L637.1 215.8L636.5 213.3L637.7 211.1L639.3 209.5L640.0 207.0L638.4 205.1L637.1 202.6L635.9 200.7M673.4 232.1L674.2 229.3L675.2 227.1M678.6 246.0L680.5 247.2L681.8 249.1L683.0 251.7L684.3 253.5L685.3 255.4M681.8 245.4L683.7 246.6L685.6 248.5L687.1 250.4L688.1 252.3M672.6 308.5L675.2 306.8L677.7 305.3M656.0 330.5L658.2 328.6L660.4 326.7M602.2 358.7L604.7 358.3M607.2 357.7L609.7 356.2M653.4 335.1L654.4 331.9L656.3 329.8L658.4 328.1L660.7 326.8M582.1 286.5L579.5 289.6L579.9 292.7L577.9 295.0L576.4 293.4L575.1 295.9L576.6 298.4L575.1 301.3L573.2 304.1L573.6 307.2L570.7 309.4L568.6 307.8M616.0 181.9L618.5 182.9L621.1 184.4L623.9 185.4L626.1 184.4M636.2 185.7L639.0 186.9L641.2 188.9M569.8 172.6L572.6 171.6L575.8 170.6M633.0 199.1L635.0 197.8L637.7 196.9L640.5 196.5L642.5 197.5M663.5 221.5L664.8 223.7M677.2 244.6L679.4 246.3L681.2 248.6L682.6 251.4L684.0 254.1L685.7 255.5M684.6 246.9L686.1 249.7L687.2 252.6L688.0 255.5M687.5 246.9L689.2 249.2L690.0 252.0L689.5 254.9M690.3 264.6L691.5 266.3L690.9 268.6M694.3 281.2L694.9 278.3L696.0 275.8M732.1 228.8L734.5 227.5L737.0 226.6M712.9 230.8L714.4 231.5L714.4 233.4M742.8 232.1L743.6 233.7" stroke="#000" stroke-width="2.3" fill="none" stroke-linejoin="round" stroke-linecap="round"/><g fill="#000"><path d="M606.7 89.7L609.2 90.2L611.3 91.3L610.8 92.3L608.3 91.5Z" stroke="#000" stroke-width="0.8"/><path d="M639.7 111.0L641.7 110.7L643.8 112.3L643.0 113.7L640.8 112.7Z" stroke="#000" stroke-width="0.8"/><path d="M669.7 106.8L668.3 108.0L666.3 110.2L668.3 110.7L670.0 108.5Z" stroke="#000" stroke-width="0.8"/><ellipse cx="825.5" cy="91.8" rx="1.5" ry="1.2"/><ellipse cx="803.3" cy="130.5" rx="1.4" ry="1.1"/><ellipse cx="807.1" cy="159.2" rx="1.6" ry="1.3"/><ellipse cx="896.4" cy="109.5" rx="2.0" ry="1.7"/><ellipse cx="814.2" cy="208.4" rx="2.0" ry="1.7"/><ellipse cx="678.6" cy="237.6" rx="1.8" ry="1.5"/><path d="M664.8 252.3L666.7 250.4L668.6 251.0L667.3 252.9Z" stroke="#000" stroke-width="0.8"/><path d="M669.8 248.5L671.1 246.6L672.0 247.6L670.7 249.4Z" stroke="#000" stroke-width="0.8"/><ellipse cx="572.0" cy="164.3" rx="2.0" ry="1.7"/><ellipse cx="622.9" cy="185.4" rx="1.8" ry="1.5"/><ellipse cx="638.0" cy="187.3" rx="1.6" ry="1.3"/><ellipse cx="649.6" cy="167.2" rx="1.4" ry="1.1"/><ellipse cx="563.8" cy="267.6" rx="1.1" ry="0.9"/><ellipse cx="580.8" cy="285.2" rx="1.6" ry="1.3"/><ellipse cx="577.6" cy="292.7" rx="1.6" ry="1.3"/><path d="M671.4 307.8L673.9 306.0L677.7 304.7L678.9 305.3L676.4 307.8L673.9 309.7L672.0 309.4Z" stroke="#000" stroke-width="0.8"/><ellipse cx="668.9" cy="313.5" rx="1.6" ry="1.3"/><path d="M655.0 330.5L657.5 328.0L660.1 326.1L661.3 327.0L658.8 329.5L656.3 331.7Z" stroke="#000" stroke-width="0.8"/><path d="M601.6 358.3L603.4 357.1L605.3 358.0L604.7 359.2L602.6 359.6Z" stroke="#000" stroke-width="0.8"/><path d="M606.6 357.1L608.5 355.8L610.4 354.9L609.7 357.1L608.5 358.7L606.8 358.3Z" stroke="#000" stroke-width="0.8"/><path d="M621.4 351.4L622.9 350.8L624.5 353.3L622.3 353.3Z" stroke="#000" stroke-width="0.8"/><path d="M652.5 335.1L653.1 331.9L655.0 329.4L657.5 327.5L660.1 326.0L661.7 326.5L660.7 328.8L658.4 330.7L656.7 332.5L655.0 335.1L653.4 336.3Z" stroke="#000" stroke-width="0.8"/><ellipse cx="724.7" cy="206.3" rx="1.4" ry="1.2"/><ellipse cx="724.2" cy="215.4" rx="1.1" ry="0.9"/><ellipse cx="770.8" cy="223.6" rx="1.2" ry="1.0"/></g>
</g>
<rect x="555.55" y="31.4" width="383.05000000000007" height="382.70000000000005" fill="none" stroke="#000" stroke-width="0.9"/>
<text x="550.0" y="96.5" font-size="8.2" text-anchor="end" textLength="18.7" lengthAdjust="spacingAndGlyphs">45°N</text><text x="550.0" y="160.3" font-size="8.2" text-anchor="end" textLength="18.7" lengthAdjust="spacingAndGlyphs">40°N</text><text x="550.0" y="224.4" font-size="8.2" text-anchor="end" textLength="18.7" lengthAdjust="spacingAndGlyphs">35°N</text><text x="550.0" y="288.0" font-size="8.2" text-anchor="end" textLength="18.7" lengthAdjust="spacingAndGlyphs">30°N</text><text x="550.0" y="351.6" font-size="8.2" text-anchor="end" textLength="18.7" lengthAdjust="spacingAndGlyphs">25°N</text><text x="618.8" y="424.7" font-size="8.2" text-anchor="middle" textLength="21.8" lengthAdjust="spacingAndGlyphs">125°E</text><text x="682.7" y="424.7" font-size="8.2" text-anchor="middle" textLength="21.8" lengthAdjust="spacingAndGlyphs">130°E</text><text x="746.7" y="424.7" font-size="8.2" text-anchor="middle" textLength="21.8" lengthAdjust="spacingAndGlyphs">135°E</text><text x="810.7" y="424.7" font-size="8.2" text-anchor="middle" textLength="21.8" lengthAdjust="spacingAndGlyphs">140°E</text><text x="874.2" y="424.7" font-size="8.2" text-anchor="middle" textLength="21.8" lengthAdjust="spacingAndGlyphs">145°E</text>
<text x="746.5" y="25" font-size="12" text-anchor="middle" textLength="291">Hourly Radar-AMeDAS analysis for 20251202 07</text>
<text x="561.5" y="407.3" font-size="10">Provided by JWA/JMA</text>
<rect x="810.5" y="271.5" width="105.0" height="104.0" fill="#fff" stroke="#000" stroke-width="1"/>
<text x="810.5" y="388.8" font-size="8.3" text-anchor="middle" textLength="4.6" lengthAdjust="spacingAndGlyphs">0</text>
<text x="805.9" y="378.5" font-size="8.3" text-anchor="end" textLength="4.6" lengthAdjust="spacingAndGlyphs">0</text>
<text x="831.5" y="388.8" font-size="8.3" text-anchor="middle" textLength="9.2" lengthAdjust="spacingAndGlyphs">10</text>
<text x="805.9" y="357.7" font-size="8.3" text-anchor="end" textLength="9.2" lengthAdjust="spacingAndGlyphs">10</text>
<text x="852.5" y="388.8" font-size="8.3" text-anchor="middle" textLength="9.2" lengthAdjust="spacingAndGlyphs">20</text>
<text x="805.9" y="336.9" font-size="8.3" text-anchor="end" textLength="9.2" lengthAdjust="spacingAndGlyphs">20</text>
<text x="873.5" y="388.8" font-size="8.3" text-anchor="middle" textLength="9.2" lengthAdjust="spacingAndGlyphs">30</text>
<text x="805.9" y="316.1" font-size="8.3" text-anchor="end" textLength="9.2" lengthAdjust="spacingAndGlyphs">30</text>
<text x="894.5" y="388.8" font-size="8.3" text-anchor="middle" textLength="9.2" lengthAdjust="spacingAndGlyphs">40</text>
<text x="805.9" y="295.3" font-size="8.3" text-anchor="end" textLength="9.2" lengthAdjust="spacingAndGlyphs">40</text>
<text x="915.5" y="388.8" font-size="8.3" text-anchor="middle" textLength="9.2" lengthAdjust="spacingAndGlyphs">50</text>
<text x="805.9" y="274.5" font-size="8.3" text-anchor="end" textLength="9.2" lengthAdjust="spacingAndGlyphs">50</text>
<path d="M810.5 375.5v3.5M810.5 375.5h-3.5M814.7 375.5v2.0M810.5 371.3h-2.0M818.9 375.5v2.0M810.5 367.2h-2.0M823.1 375.5v2.0M810.5 363.0h-2.0M827.3 375.5v2.0M810.5 358.9h-2.0M831.5 375.5v3.5M810.5 354.7h-3.5M835.7 375.5v2.0M810.5 350.5h-2.0M839.9 375.5v2.0M810.5 346.4h-2.0M844.1 375.5v2.0M810.5 342.2h-2.0M848.3 375.5v2.0M810.5 338.1h-2.0M852.5 375.5v3.5M810.5 333.9h-3.5M856.7 375.5v2.0M810.5 329.7h-2.0M860.9 375.5v2.0M810.5 325.6h-2.0M865.1 375.5v2.0M810.5 321.4h-2.0M869.3 375.5v2.0M810.5 317.3h-2.0M873.5 375.5v3.5M810.5 313.1h-3.5M877.7 375.5v2.0M810.5 308.9h-2.0M881.9 375.5v2.0M810.5 304.8h-2.0M886.1 375.5v2.0M810.5 300.6h-2.0M890.3 375.5v2.0M810.5 296.5h-2.0M894.5 375.5v3.5M810.5 292.3h-3.5M898.7 375.5v2.0M810.5 288.1h-2.0M902.9 375.5v2.0M810.5 284.0h-2.0M907.1 375.5v2.0M810.5 279.8h-2.0M911.3 375.5v2.0M810.5 275.7h-2.0M915.5 375.5v3.5M810.5 271.5h-3.5" stroke="#000" stroke-width="0.7"/>
<text x="861.6" y="398.5" font-size="10" text-anchor="middle">ANALYSIS</text>
<text transform="translate(791.6 323.7) rotate(-90)" font-size="10" text-anchor="middle">GSMAP_NRT_1HR</text>
<path d="M809.4 375.3h3.4M811.1 373.6v3.4M810.1 375.1h3.4M811.8 373.4v3.4M810.7 375.3h3.4M812.4 373.6v3.4M811.3 374.9h3.4M813.0 373.2v3.4M811.9 374.5h3.4M813.6 372.8v3.4M812.6 375.1h3.4M814.3 373.4v3.4M813.2 373.8h3.4M814.9 372.1v3.4M813.8 374.7h3.4M815.5 373.0v3.4M814.5 373.4h3.4M816.2 371.7v3.4M815.1 374.9h3.4M816.8 373.2v3.4M815.7 374.3h3.4M817.4 372.6v3.4M810.9 373.0h3.4M812.6 371.3v3.4M812.2 371.8h3.4M813.9 370.1v3.4M813.0 370.3h3.4M814.7 368.6v3.4M814.7 369.3h3.4M816.4 367.6v3.4M813.4 364.1h3.4M815.1 362.4v3.4M816.4 362.2h3.4M818.1 360.5v3.4M809.8 373.4h3.4M811.5 371.7v3.4M811.5 370.9h3.4M813.2 369.2v3.4M810.5 374.3h3.4M812.2 372.6v3.4M817.6 374.5h3.4M819.3 372.8v3.4M819.3 374.9h3.4M821.0 373.2v3.4M821.8 375.1h3.4M823.5 373.4v3.4M824.5 375.3h3.4M826.2 373.6v3.4M828.3 374.9h3.4M830.0 373.2v3.4M829.4 375.3h3.4M831.1 373.6v3.4M865.9 375.3h3.4M867.6 373.6v3.4M816.8 373.0h3.4M818.5 371.3v3.4M809.2 374.5h3.4M810.9 372.8v3.4M814.0 372.2h3.4M815.8 370.5v3.4M812.8 373.0h3.4M814.5 371.3v3.4M809.6 374.9h3.4M811.3 373.2v3.4M811.1 374.0h3.4M812.8 372.3v3.4M811.7 375.3h3.4M813.4 373.6v3.4M810.3 372.4h3.4M812.0 370.7v3.4M815.3 371.3h3.4M817.0 369.6v3.4M818.5 375.3h3.4M820.2 373.6v3.4" stroke="#000" stroke-width="0.7" fill="none"/>
<path d="M810.5 375.5L915.5 271.5" stroke="#000" stroke-width="1"/>
<rect x="971.6" y="48.90" width="22.3" height="36.80" fill="#d29c40"/>
<rect x="971.6" y="85.40" width="22.3" height="36.80" fill="#ff00ff"/>
<rect x="971.6" y="121.90" width="22.3" height="36.80" fill="#dc64ff"/>
<rect x="971.6" y="158.40" width="22.3" height="36.80" fill="#9664ff"/>
<rect x="971.6" y="194.90" width="22.3" height="36.80" fill="#0064ff"/>
<rect x="971.6" y="231.40" width="22.3" height="36.80" fill="#00c8ff"/>
<rect x="971.6" y="267.90" width="22.3" height="36.80" fill="#64ffff"/>
<rect x="971.6" y="304.40" width="22.3" height="36.80" fill="#96ff96"/>
<rect x="971.6" y="340.90" width="22.3" height="36.80" fill="#dcffc8"/>
<rect x="971.6" y="377.40" width="22.3" height="36.80" fill="#ffe8bd"/>
<path d="M971.4 49.1L982.7 30.2L994.1 49.1Z" fill="#000"/>
<path d="M972.0 48.9V413.5H993.5V48.9" fill="none" stroke="#000" stroke-width="0.9"/>
<text x="1001.2" y="53.6" font-size="11">50</text>
<text x="1001.2" y="90.1" font-size="11">25</text>
<text x="1001.2" y="126.6" font-size="11">10</text>
<text x="1001.2" y="163.1" font-size="11">5</text>
<text x="1001.2" y="199.6" font-size="11">4</text>
<text x="1001.2" y="236.1" font-size="11">3</text>
<text x="1001.2" y="272.7" font-size="11">2</text>
<text x="1001.2" y="309.2" font-size="11">1</text>
<text x="1001.2" y="345.7" font-size="11">0.5</text>
<text x="1001.2" y="382.2" font-size="11">0.01</text>
<text x="1001.2" y="418.7" font-size="11">0</text>
<path d="M994.1 49.3h4.7M994.1 85.8h4.7M994.1 122.3h4.7M994.1 158.8h4.7M994.1 195.3h4.7M994.1 231.8h4.7M994.1 268.4h4.7M994.1 304.9h4.7M994.1 341.4h4.7M994.1 377.9h4.7M994.1 414.4h4.7" stroke="#000" stroke-width="0.9"/>
<rect x="74.5" y="452.4" width="125.10" height="18.0" fill="#ffe8bd" stroke="#222" stroke-width="0.7"/><rect x="199.6" y="452.4" width="5.80" height="18.0" fill="#dcffc8" stroke="#222" stroke-width="0.7"/><rect x="205.4" y="452.4" width="0.90" height="18.0" fill="#96ff96" stroke="#222" stroke-width="0.7"/><rect x="206.3" y="452.4" width="0.40" height="18.0" fill="#64ffff" stroke="#222" stroke-width="0.7"/><rect x="206.7" y="452.4" width="0.30" height="18.0" fill="#00c8ff" stroke="#222" stroke-width="0.7"/><rect x="207.0" y="452.4" width="0.20" height="18.0" fill="#0064ff" stroke="#222" stroke-width="0.7"/><rect x="207.2" y="452.4" width="0.20" height="18.0" fill="#9664ff" stroke="#222" stroke-width="0.7"/><rect x="207.4" y="452.4" width="0.20" height="18.0" fill="#dc64ff" stroke="#222" stroke-width="0.7"/><rect x="207.6" y="452.4" width="0.10" height="18.0" fill="#ff00ff" stroke="#222" stroke-width="0.7"/>
<rect x="74.5" y="479.5" width="90.90" height="18.1" fill="#ffe8bd" stroke="#222" stroke-width="0.7"/><rect x="165.4" y="479.5" width="32.20" height="18.1" fill="#dcffc8" stroke="#222" stroke-width="0.7"/><rect x="197.6" y="479.5" width="4.90" height="18.1" fill="#96ff96" stroke="#222" stroke-width="0.7"/><rect x="202.5" y="479.5" width="3.00" height="18.1" fill="#64ffff" stroke="#222" stroke-width="0.7"/><rect x="205.5" y="479.5" width="0.70" height="18.1" fill="#00c8ff" stroke="#222" stroke-width="0.7"/><rect x="206.2" y="479.5" width="0.50" height="18.1" fill="#0064ff" stroke="#222" stroke-width="0.7"/><rect x="206.7" y="479.5" width="0.40" height="18.1" fill="#9664ff" stroke="#222" stroke-width="0.7"/><rect x="207.1" y="479.5" width="0.30" height="18.1" fill="#dc64ff" stroke="#222" stroke-width="0.7"/><rect x="207.4" y="479.5" width="0.30" height="18.1" fill="#ff00ff" stroke="#222" stroke-width="0.7"/>
<path d="M74.5 470.4L74.5 479.5M199.6 470.4L165.4 479.5M205.4 470.4L197.6 479.5M206.3 470.4L202.5 479.5M206.7 470.4L205.5 479.5M207.0 470.4L206.2 479.5M207.2 470.4L206.7 479.5M207.4 470.4L207.1 479.5M207.6 470.4L207.4 479.5" stroke="#000" stroke-width="0.6" fill="none"/>
<text x="140.3" y="447" font-size="10" text-anchor="middle">Hourly fraction by occurence</text>
<text x="47.2" y="466" font-size="10">Est</text><text x="47.2" y="492.7" font-size="10">Obs</text>
<text x="58.3" y="509.6" font-size="10">0%</text><text x="135.5" y="509.6" font-size="10" text-anchor="middle">Areal fraction</text><text x="195.5" y="509.6" font-size="10">100%</text>
<rect x="74.5" y="533.3" width="5.70" height="17.9" fill="#dcffc8" stroke="#222" stroke-width="0.7"/><rect x="80.2" y="533.3" width="4.10" height="17.9" fill="#96ff96" stroke="#222" stroke-width="0.7"/><rect x="84.3" y="533.3" width="3.30" height="17.9" fill="#64ffff" stroke="#222" stroke-width="0.7"/><rect x="87.6" y="533.3" width="2.00" height="17.9" fill="#00c8ff" stroke="#222" stroke-width="0.7"/><rect x="89.6" y="533.3" width="2.10" height="17.9" fill="#0064ff" stroke="#222" stroke-width="0.7"/><rect x="91.7" y="533.3" width="0.40" height="17.9" fill="#9664ff" stroke="#222" stroke-width="0.7"/><rect x="92.1" y="533.3" width="4.20" height="17.9" fill="#dc64ff" stroke="#222" stroke-width="0.7"/>
<rect x="74.5" y="560.6" width="32.00" height="17.9" fill="#dcffc8" stroke="#222" stroke-width="0.7"/><rect x="106.5" y="560.6" width="23.10" height="17.9" fill="#96ff96" stroke="#222" stroke-width="0.7"/><rect x="129.6" y="560.6" width="23.90" height="17.9" fill="#64ffff" stroke="#222" stroke-width="0.7"/><rect x="153.5" y="560.6" width="10.00" height="17.9" fill="#00c8ff" stroke="#222" stroke-width="0.7"/><rect x="163.5" y="560.6" width="14.30" height="17.9" fill="#0064ff" stroke="#222" stroke-width="0.7"/><rect x="177.8" y="560.6" width="6.80" height="17.9" fill="#9664ff" stroke="#222" stroke-width="0.7"/><rect x="184.6" y="560.6" width="15.00" height="17.9" fill="#dc64ff" stroke="#222" stroke-width="0.7"/><rect x="199.6" y="560.6" width="8.10" height="17.9" fill="#d29c40" stroke="#222" stroke-width="0.7"/>
<path d="M74.5 551.2L74.5 560.6M80.2 551.2L106.5 560.6M84.3 551.2L129.6 560.6M87.6 551.2L153.5 560.6M89.6 551.2L163.5 560.6M91.7 551.2L177.8 560.6M92.1 551.2L184.6 560.6M96.3 551.2L199.6 560.6M96.3 551.2L207.7 560.6" stroke="#000" stroke-width="0.6" fill="none"/>
<path d="M75 533.3V551.2" stroke="#333" stroke-width="1.3"/>
<text x="139.8" y="527.5" font-size="10" text-anchor="middle">Hourly fraction of total rain</text>
<text x="47.2" y="547" font-size="10">Est</text><text x="47.2" y="573.6" font-size="10">Obs</text>
<text x="140.6" y="589.5" font-size="10" text-anchor="middle">Rainfall accumulation by amount</text>
<path d="M277.5 478.5H401.5V573.5H277.5ZM339.5 478.5V573.5M277.5 526.5H401.5" fill="none" stroke="#000" stroke-width="0.9"/>
<text x="338.8" y="455.1" font-size="10" text-anchor="middle">GSMAP_NRT_1HR</text>
<text x="308.4" y="470" font-size="10" text-anchor="middle">&lt;0.01</text><text x="369.8" y="470" font-size="10" text-anchor="middle">≥0.01</text>
<text transform="translate(246 520.3) rotate(-90)" font-size="10" text-anchor="middle">ANALYSIS</text>
<text x="275" y="505.6" font-size="10" text-anchor="end">&lt;0.01</text><text x="275" y="552.6" font-size="10" text-anchor="end">≥0.01</text>
<text x="308.3" y="505.6" font-size="10" text-anchor="middle">2946</text><text x="370.6" y="505.6" font-size="10" text-anchor="middle">4</text>
<text x="307.8" y="552.6" font-size="10" text-anchor="middle">93</text><text x="369.8" y="552.6" font-size="10" text-anchor="middle">14</text>
<text x="460.3" y="454" font-size="10" textLength="393.5">Validation statistics for 20251202 07  n=3057 Valid. grid=0.25° Units=mm/hr.</text>
<path d="M457.3 457.4H997M457.3 480.3H758" stroke="#000" stroke-width="1" stroke-dasharray="3.3 1.2" fill="none"/>
<text x="632.5" y="474.7" font-size="10" text-anchor="middle">ANALYSIS</text><text x="713.5" y="474.7" font-size="10" text-anchor="middle">GSMAP_NRT_1HR</text>
<text x="460.1" y="499" font-size="10">Num of gridpoints raining</text>
<text x="648.6" y="499" font-size="10" text-anchor="end">107</text><text x="729.4" y="499" font-size="10" text-anchor="end">18</text>
<text x="460.1" y="519" font-size="10">Average rain</text>
<text x="648.6" y="519" font-size="10" text-anchor="end">0.2</text><text x="729.4" y="519" font-size="10" text-anchor="end">0.0</text>
<text x="460.1" y="539" font-size="10">Conditional rain</text>
<text x="648.6" y="539" font-size="10" text-anchor="end">4.6</text><text x="729.4" y="539" font-size="10" text-anchor="end">4.5</text>
<text x="461.3" y="558.6" font-size="10">Rain volume (mm km<tspan font-size="7" dy="-3.6">2</tspan><tspan dy="3.6">10</tspan><tspan font-size="7" dy="-3.6">6</tspan><tspan dy="3.6">)</tspan></text>
<text x="648.6" y="558.6" font-size="10" text-anchor="end">0.3</text><text x="729.4" y="558.6" font-size="10" text-anchor="end">0.1</text>
<text x="460.1" y="578" font-size="10">Maximum rain</text>
<text x="648.6" y="578" font-size="10" text-anchor="end">27.2</text><text x="729.4" y="578" font-size="10" text-anchor="end">6.6</text>
<text x="784.2" y="472.0" font-size="10">Mean abs error =    0.1</text>
<text x="784.2" y="489.0" font-size="10">RMS error =    0.7</text>
<text x="784.2" y="506.1" font-size="10">Correlation coeff =  0.248</text>
<text x="784.2" y="523.1" font-size="10">Frequency bias =  0.168</text>
<text x="784.2" y="540.1" font-size="10">Probability of detection =  0.131</text>
<text x="784.2" y="557.1" font-size="10">False alarm ratio =  0.222</text>
<text x="784.2" y="574.2" font-size="10">Hanssen &amp; Kuipers score =  0.129</text>
<text x="784.2" y="591.2" font-size="10">Equitable threat score =  0.121</text>
</svg></body></html>
